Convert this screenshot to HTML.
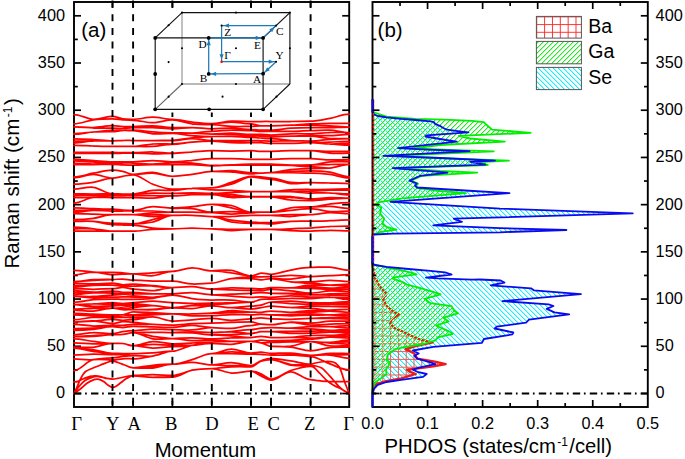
<!DOCTYPE html>
<html><head><meta charset="utf-8"><style>
html,body{margin:0;padding:0;background:#fff;}
svg{display:block;}
text{font-family:"Liberation Sans",sans-serif;fill:#000;}
.tl{font-size:16.3px;}
.hs{font-family:"Liberation Serif",serif;font-size:18.6px;}
.ti{font-size:20.3px;}
.pl{font-size:20.5px;}
.lg{font-size:19.5px;}
.ins{font-family:"Liberation Serif",serif;font-size:11.3px;}
</style></head><body>
<svg width="685" height="459" viewBox="0 0 685 459">
<rect width="685" height="459" fill="#fff"/>
<defs>
<pattern id="pBa" patternUnits="userSpaceOnUse" width="7.85" height="7.7" x="2.45" y="1">
<path d="M0 0.5H7.85M0.5 0V7.7" stroke="#ff2020" stroke-width="0.9" fill="none"/></pattern>
<pattern id="pGa" patternUnits="userSpaceOnUse" width="5" height="5" x="0" y="0">
<g fill="#18ee18" shape-rendering="crispEdges"><rect x="4" y="0" width="1" height="1"/><rect x="3" y="1" width="1" height="1"/><rect x="2" y="2" width="1" height="1"/><rect x="1" y="3" width="1" height="1"/><rect x="0" y="4" width="1" height="1"/></g><g fill="#b0f4b0" shape-rendering="crispEdges"><rect x="0" y="0" width="1" height="1"/><rect x="4" y="1" width="1" height="1"/><rect x="3" y="2" width="1" height="1"/><rect x="2" y="3" width="1" height="1"/><rect x="1" y="4" width="1" height="1"/></g></pattern>
<pattern id="pSe" patternUnits="userSpaceOnUse" width="5" height="5" x="0" y="0">
<g fill="#10f0ff" shape-rendering="crispEdges"><rect x="0" y="0" width="1" height="1"/><rect x="1" y="1" width="1" height="1"/><rect x="2" y="2" width="1" height="1"/><rect x="3" y="3" width="1" height="1"/><rect x="4" y="4" width="1" height="1"/></g><g fill="#a8f8ff" shape-rendering="crispEdges"><rect x="1" y="0" width="1" height="1"/><rect x="2" y="1" width="1" height="1"/><rect x="3" y="2" width="1" height="1"/><rect x="4" y="3" width="1" height="1"/><rect x="0" y="4" width="1" height="1"/></g></pattern>
<pattern id="pBa2" patternUnits="userSpaceOnUse" width="7.8" height="7.8" x="0.1" y="0.1">
<path d="M0 0.5H7.8M0.5 0V7.8" stroke="#ff5050" stroke-width="1.0" fill="none"/></pattern>
</defs>
<g id="dos"><polygon points="372.5,100.0 372.5,100.0 372.7,112.3 374.2,114.5 377.8,116.0 386.6,117.4 401.2,118.9 415.8,120.0 430.4,121.4 434.0,122.2 435.5,124.2 440.6,126.2 442.9,127.7 447.0,129.7 459.6,131.3 468.4,132.4 426.6,135.4 425.5,136.5 440.0,139.0 456.8,141.6 398.1,148.2 426.7,149.7 469.6,151.2 383.3,155.9 440.0,158.0 495.0,160.6 470.1,161.8 485.4,164.6 392.8,168.2 447.4,172.6 420.3,175.8 409.5,180.6 416.8,183.5 415.0,185.8 417.0,187.5 465.0,190.5 509.5,193.2 390.4,201.8 500.0,208.6 632.8,213.3 500.0,217.4 453.7,218.7 461.9,221.8 433.3,225.3 500.0,228.2 566.4,230.0 500.0,232.3 392.4,233.6 374.0,234.5 372.5,236.5 372.5,262.5 372.7,263.8 374.9,265.0 386.6,266.8 408.5,269.0 430.4,270.8 445.0,272.3 451.6,274.5 426.0,277.7 437.7,278.4 472.0,279.6 480.0,279.5 500.6,280.5 504.5,282.5 490.8,285.4 531.0,288.3 533.9,290.3 581.0,294.2 502.5,301.1 548.6,304.4 553.5,306.0 546.7,308.9 554.5,312.3 569.2,314.4 529.0,319.7 526.1,322.6 496.7,326.6 494.7,328.5 513.3,332.5 512.4,334.4 483.9,339.0 482.0,342.8 433.3,346.9 412.9,350.5 418.7,353.5 414.3,355.7 417.3,358.6 430.4,362.3 435.5,364.1 420.2,367.4 412.9,369.6 417.3,371.8 426.7,374.0 423.1,376.9 401.2,379.8 386.6,382.0 377.8,384.9 374.2,388.6 372.7,393.0 372.5,396.0 372.5,396.0" fill="url(#pSe)" stroke="none"/>
<polygon points="372.5,262.0 372.5,262.0 372.7,266.4 374.2,272.6 373.5,277.0 377.1,280.6 378.6,285.0 382.2,289.4 386.6,293.8 383.0,298.8 386.6,306.1 393.9,311.9 399.0,314.5 391.7,319.2 390.2,323.6 395.4,328.7 401.2,330.8 410.0,335.2 420.2,339.6 432.6,342.5 415.8,346.2 405.6,349.1 414.3,353.5 417.3,358.6 434.8,361.6 445.7,364.1 433.3,366.4 420.2,368.1 407.0,369.6 410.0,371.8 415.8,374.0 401.2,378.4 385.1,381.3 376.4,384.2 372.7,390.0 372.5,394.0 372.5,394.0" fill="url(#pBa2)" stroke="none"/>
<line x1="373.6" y1="99.5" x2="373.6" y2="262" stroke="#ff2020" stroke-width="1.2"/>
<polyline points="372.5,262.0 372.7,266.4 374.2,272.6 373.5,277.0 377.1,280.6 378.6,285.0 382.2,289.4 386.6,293.8 383.0,298.8 386.6,306.1 393.9,311.9 399.0,314.5 391.7,319.2 390.2,323.6 395.4,328.7 401.2,330.8 410.0,335.2 420.2,339.6 432.6,342.5 415.8,346.2 405.6,349.1 414.3,353.5 417.3,358.6 434.8,361.6 445.7,364.1 433.3,366.4 420.2,368.1 407.0,369.6 410.0,371.8 415.8,374.0 401.2,378.4 385.1,381.3 376.4,384.2 372.7,390.0 372.5,394.0" fill="none" stroke="#f01818" stroke-width="2.3" stroke-linejoin="round"/>
<polygon points="372.5,110.0 372.5,110.0 372.7,112.0 386.6,116.7 415.8,118.9 445.0,119.6 472.0,120.8 483.8,122.2 485.8,124.2 489.9,127.7 492.0,129.7 530.8,132.8 458.7,135.8 470.0,138.5 504.8,141.7 440.0,145.0 412.0,148.5 450.0,150.0 493.7,151.4 392.0,155.9 450.0,158.5 508.9,160.6 480.0,162.2 487.9,165.0 398.0,168.2 440.0,171.0 477.2,172.6 422.0,175.8 411.0,180.6 418.0,183.6 416.0,186.0 418.0,188.0 440.0,191.0 466.0,193.2 402.7,198.3 378.1,202.4 375.0,204.4 381.2,207.5 380.2,213.6 384.3,218.7 382.2,223.8 386.3,226.9 396.5,229.6 380.2,232.0 372.5,234.5 372.5,263.0 372.7,264.1 386.6,267.5 401.2,270.4 411.4,272.6 416.5,274.4 393.9,277.3 392.4,278.4 402.7,282.1 407.0,284.6 421.6,288.4 424.6,289.4 434.8,292.3 440.6,294.3 424.6,298.8 430.4,303.1 451.6,306.1 453.8,310.4 458.1,313.4 443.5,317.7 448.6,321.4 436.2,325.7 447.9,330.8 453.0,333.8 437.7,337.4 435.5,340.3 423.1,344.0 405.6,346.9 395.4,349.1 388.1,354.2 386.6,360.0 389.5,362.0 388.8,365.2 385.9,369.6 386.6,374.0 380.8,378.4 374.9,382.7 372.7,388.6 372.5,394.0 372.5,394.0" fill="url(#pGa)" stroke="none"/>
<polyline points="372.5,110.0 372.7,112.0 386.6,116.7 415.8,118.9 445.0,119.6 472.0,120.8 483.8,122.2 485.8,124.2 489.9,127.7 492.0,129.7 530.8,132.8 458.7,135.8 470.0,138.5 504.8,141.7 440.0,145.0 412.0,148.5 450.0,150.0 493.7,151.4 392.0,155.9 450.0,158.5 508.9,160.6 480.0,162.2 487.9,165.0 398.0,168.2 440.0,171.0 477.2,172.6 422.0,175.8 411.0,180.6 418.0,183.6 416.0,186.0 418.0,188.0 440.0,191.0 466.0,193.2 402.7,198.3 378.1,202.4 375.0,204.4 381.2,207.5 380.2,213.6 384.3,218.7 382.2,223.8 386.3,226.9 396.5,229.6 380.2,232.0 372.5,234.5 372.5,263.0 372.7,264.1 386.6,267.5 401.2,270.4 411.4,272.6 416.5,274.4 393.9,277.3 392.4,278.4 402.7,282.1 407.0,284.6 421.6,288.4 424.6,289.4 434.8,292.3 440.6,294.3 424.6,298.8 430.4,303.1 451.6,306.1 453.8,310.4 458.1,313.4 443.5,317.7 448.6,321.4 436.2,325.7 447.9,330.8 453.0,333.8 437.7,337.4 435.5,340.3 423.1,344.0 405.6,346.9 395.4,349.1 388.1,354.2 386.6,360.0 389.5,362.0 388.8,365.2 385.9,369.6 386.6,374.0 380.8,378.4 374.9,382.7 372.7,388.6 372.5,394.0" fill="none" stroke="#00ee00" stroke-width="1.8" stroke-linejoin="round"/>
<polyline points="372.5,99.3 372.5,100.0 372.7,112.3 374.2,114.5 377.8,116.0 386.6,117.4 401.2,118.9 415.8,120.0 430.4,121.4 434.0,122.2 435.5,124.2 440.6,126.2 442.9,127.7 447.0,129.7 459.6,131.3 468.4,132.4 426.6,135.4 425.5,136.5 440.0,139.0 456.8,141.6 398.1,148.2 426.7,149.7 469.6,151.2 383.3,155.9 440.0,158.0 495.0,160.6 470.1,161.8 485.4,164.6 392.8,168.2 447.4,172.6 420.3,175.8 409.5,180.6 416.8,183.5 415.0,185.8 417.0,187.5 465.0,190.5 509.5,193.2 390.4,201.8 500.0,208.6 632.8,213.3 500.0,217.4 453.7,218.7 461.9,221.8 433.3,225.3 500.0,228.2 566.4,230.0 500.0,232.3 392.4,233.6 374.0,234.5 372.5,236.5 372.5,262.5 372.7,263.8 374.9,265.0 386.6,266.8 408.5,269.0 430.4,270.8 445.0,272.3 451.6,274.5 426.0,277.7 437.7,278.4 472.0,279.6 480.0,279.5 500.6,280.5 504.5,282.5 490.8,285.4 531.0,288.3 533.9,290.3 581.0,294.2 502.5,301.1 548.6,304.4 553.5,306.0 546.7,308.9 554.5,312.3 569.2,314.4 529.0,319.7 526.1,322.6 496.7,326.6 494.7,328.5 513.3,332.5 512.4,334.4 483.9,339.0 482.0,342.8 433.3,346.9 412.9,350.5 418.7,353.5 414.3,355.7 417.3,358.6 430.4,362.3 435.5,364.1 420.2,367.4 412.9,369.6 417.3,371.8 426.7,374.0 423.1,376.9 401.2,379.8 386.6,382.0 377.8,384.9 374.2,388.6 372.7,393.0 372.5,396.0 372.5,407.0" fill="none" stroke="#0a0aee" stroke-width="1.8" stroke-linejoin="round"/></g>
<rect x="74.0" y="2.0" width="275.2" height="405.0" fill="none" stroke="#000" stroke-width="1.9"/>
<rect x="372.5" y="2.0" width="275.29999999999995" height="405.0" fill="none" stroke="#000" stroke-width="1.9"/>
<line x1="373.3" y1="113" x2="373.3" y2="262" stroke="#ff2020" stroke-width="1.3" stroke-dasharray="2.6 1.6"/>
<line x1="372.5" y1="99.3" x2="372.5" y2="112.5" stroke="#0a0aee" stroke-width="1.8"/>
<line x1="372.5" y1="236.3" x2="372.5" y2="263.2" stroke="#0a0aee" stroke-width="1.8"/>
<line x1="372.5" y1="392.5" x2="372.5" y2="407" stroke="#0a0aee" stroke-width="1.8"/>
<line x1="74.0" y1="393.50" x2="81.0" y2="393.50" stroke="#000" stroke-width="1.7"/>
<line x1="349.2" y1="393.50" x2="342.2" y2="393.50" stroke="#000" stroke-width="1.7"/>
<line x1="372.5" y1="393.50" x2="379.5" y2="393.50" stroke="#000" stroke-width="1.7"/>
<line x1="647.8" y1="393.50" x2="640.8" y2="393.50" stroke="#000" stroke-width="1.7"/>
<line x1="74.0" y1="369.89" x2="77.8" y2="369.89" stroke="#000" stroke-width="1.7"/>
<line x1="349.2" y1="369.89" x2="345.4" y2="369.89" stroke="#000" stroke-width="1.7"/>
<line x1="372.5" y1="369.89" x2="376.3" y2="369.89" stroke="#000" stroke-width="1.7"/>
<line x1="647.8" y1="369.89" x2="644.0" y2="369.89" stroke="#000" stroke-width="1.7"/>
<line x1="74.0" y1="346.29" x2="81.0" y2="346.29" stroke="#000" stroke-width="1.7"/>
<line x1="349.2" y1="346.29" x2="342.2" y2="346.29" stroke="#000" stroke-width="1.7"/>
<line x1="372.5" y1="346.29" x2="379.5" y2="346.29" stroke="#000" stroke-width="1.7"/>
<line x1="647.8" y1="346.29" x2="640.8" y2="346.29" stroke="#000" stroke-width="1.7"/>
<line x1="74.0" y1="322.68" x2="77.8" y2="322.68" stroke="#000" stroke-width="1.7"/>
<line x1="349.2" y1="322.68" x2="345.4" y2="322.68" stroke="#000" stroke-width="1.7"/>
<line x1="372.5" y1="322.68" x2="376.3" y2="322.68" stroke="#000" stroke-width="1.7"/>
<line x1="647.8" y1="322.68" x2="644.0" y2="322.68" stroke="#000" stroke-width="1.7"/>
<line x1="74.0" y1="299.07" x2="81.0" y2="299.07" stroke="#000" stroke-width="1.7"/>
<line x1="349.2" y1="299.07" x2="342.2" y2="299.07" stroke="#000" stroke-width="1.7"/>
<line x1="372.5" y1="299.07" x2="379.5" y2="299.07" stroke="#000" stroke-width="1.7"/>
<line x1="647.8" y1="299.07" x2="640.8" y2="299.07" stroke="#000" stroke-width="1.7"/>
<line x1="74.0" y1="275.47" x2="77.8" y2="275.47" stroke="#000" stroke-width="1.7"/>
<line x1="349.2" y1="275.47" x2="345.4" y2="275.47" stroke="#000" stroke-width="1.7"/>
<line x1="372.5" y1="275.47" x2="376.3" y2="275.47" stroke="#000" stroke-width="1.7"/>
<line x1="647.8" y1="275.47" x2="644.0" y2="275.47" stroke="#000" stroke-width="1.7"/>
<line x1="74.0" y1="251.86" x2="81.0" y2="251.86" stroke="#000" stroke-width="1.7"/>
<line x1="349.2" y1="251.86" x2="342.2" y2="251.86" stroke="#000" stroke-width="1.7"/>
<line x1="372.5" y1="251.86" x2="379.5" y2="251.86" stroke="#000" stroke-width="1.7"/>
<line x1="647.8" y1="251.86" x2="640.8" y2="251.86" stroke="#000" stroke-width="1.7"/>
<line x1="74.0" y1="228.26" x2="77.8" y2="228.26" stroke="#000" stroke-width="1.7"/>
<line x1="349.2" y1="228.26" x2="345.4" y2="228.26" stroke="#000" stroke-width="1.7"/>
<line x1="372.5" y1="228.26" x2="376.3" y2="228.26" stroke="#000" stroke-width="1.7"/>
<line x1="647.8" y1="228.26" x2="644.0" y2="228.26" stroke="#000" stroke-width="1.7"/>
<line x1="74.0" y1="204.65" x2="81.0" y2="204.65" stroke="#000" stroke-width="1.7"/>
<line x1="349.2" y1="204.65" x2="342.2" y2="204.65" stroke="#000" stroke-width="1.7"/>
<line x1="372.5" y1="204.65" x2="379.5" y2="204.65" stroke="#000" stroke-width="1.7"/>
<line x1="647.8" y1="204.65" x2="640.8" y2="204.65" stroke="#000" stroke-width="1.7"/>
<line x1="74.0" y1="181.04" x2="77.8" y2="181.04" stroke="#000" stroke-width="1.7"/>
<line x1="349.2" y1="181.04" x2="345.4" y2="181.04" stroke="#000" stroke-width="1.7"/>
<line x1="372.5" y1="181.04" x2="376.3" y2="181.04" stroke="#000" stroke-width="1.7"/>
<line x1="647.8" y1="181.04" x2="644.0" y2="181.04" stroke="#000" stroke-width="1.7"/>
<line x1="74.0" y1="157.44" x2="81.0" y2="157.44" stroke="#000" stroke-width="1.7"/>
<line x1="349.2" y1="157.44" x2="342.2" y2="157.44" stroke="#000" stroke-width="1.7"/>
<line x1="372.5" y1="157.44" x2="379.5" y2="157.44" stroke="#000" stroke-width="1.7"/>
<line x1="647.8" y1="157.44" x2="640.8" y2="157.44" stroke="#000" stroke-width="1.7"/>
<line x1="74.0" y1="133.83" x2="77.8" y2="133.83" stroke="#000" stroke-width="1.7"/>
<line x1="349.2" y1="133.83" x2="345.4" y2="133.83" stroke="#000" stroke-width="1.7"/>
<line x1="372.5" y1="133.83" x2="376.3" y2="133.83" stroke="#000" stroke-width="1.7"/>
<line x1="647.8" y1="133.83" x2="644.0" y2="133.83" stroke="#000" stroke-width="1.7"/>
<line x1="74.0" y1="110.22" x2="81.0" y2="110.22" stroke="#000" stroke-width="1.7"/>
<line x1="349.2" y1="110.22" x2="342.2" y2="110.22" stroke="#000" stroke-width="1.7"/>
<line x1="372.5" y1="110.22" x2="379.5" y2="110.22" stroke="#000" stroke-width="1.7"/>
<line x1="647.8" y1="110.22" x2="640.8" y2="110.22" stroke="#000" stroke-width="1.7"/>
<line x1="74.0" y1="86.62" x2="77.8" y2="86.62" stroke="#000" stroke-width="1.7"/>
<line x1="349.2" y1="86.62" x2="345.4" y2="86.62" stroke="#000" stroke-width="1.7"/>
<line x1="372.5" y1="86.62" x2="376.3" y2="86.62" stroke="#000" stroke-width="1.7"/>
<line x1="647.8" y1="86.62" x2="644.0" y2="86.62" stroke="#000" stroke-width="1.7"/>
<line x1="74.0" y1="63.01" x2="81.0" y2="63.01" stroke="#000" stroke-width="1.7"/>
<line x1="349.2" y1="63.01" x2="342.2" y2="63.01" stroke="#000" stroke-width="1.7"/>
<line x1="372.5" y1="63.01" x2="379.5" y2="63.01" stroke="#000" stroke-width="1.7"/>
<line x1="647.8" y1="63.01" x2="640.8" y2="63.01" stroke="#000" stroke-width="1.7"/>
<line x1="74.0" y1="39.41" x2="77.8" y2="39.41" stroke="#000" stroke-width="1.7"/>
<line x1="349.2" y1="39.41" x2="345.4" y2="39.41" stroke="#000" stroke-width="1.7"/>
<line x1="372.5" y1="39.41" x2="376.3" y2="39.41" stroke="#000" stroke-width="1.7"/>
<line x1="647.8" y1="39.41" x2="644.0" y2="39.41" stroke="#000" stroke-width="1.7"/>
<line x1="74.0" y1="15.80" x2="81.0" y2="15.80" stroke="#000" stroke-width="1.7"/>
<line x1="349.2" y1="15.80" x2="342.2" y2="15.80" stroke="#000" stroke-width="1.7"/>
<line x1="372.5" y1="15.80" x2="379.5" y2="15.80" stroke="#000" stroke-width="1.7"/>
<line x1="647.8" y1="15.80" x2="640.8" y2="15.80" stroke="#000" stroke-width="1.7"/>
<line x1="112.5" y1="2.0" x2="112.5" y2="8.0" stroke="#000" stroke-width="1.7"/>
<line x1="112.5" y1="407.0" x2="112.5" y2="401.0" stroke="#000" stroke-width="1.7"/>
<line x1="133.1" y1="2.0" x2="133.1" y2="8.0" stroke="#000" stroke-width="1.7"/>
<line x1="133.1" y1="407.0" x2="133.1" y2="401.0" stroke="#000" stroke-width="1.7"/>
<line x1="172.4" y1="2.0" x2="172.4" y2="8.0" stroke="#000" stroke-width="1.7"/>
<line x1="172.4" y1="407.0" x2="172.4" y2="401.0" stroke="#000" stroke-width="1.7"/>
<line x1="211.8" y1="2.0" x2="211.8" y2="8.0" stroke="#000" stroke-width="1.7"/>
<line x1="211.8" y1="407.0" x2="211.8" y2="401.0" stroke="#000" stroke-width="1.7"/>
<line x1="251.0" y1="2.0" x2="251.0" y2="8.0" stroke="#000" stroke-width="1.7"/>
<line x1="251.0" y1="407.0" x2="251.0" y2="401.0" stroke="#000" stroke-width="1.7"/>
<line x1="271.0" y1="2.0" x2="271.0" y2="8.0" stroke="#000" stroke-width="1.7"/>
<line x1="271.0" y1="407.0" x2="271.0" y2="401.0" stroke="#000" stroke-width="1.7"/>
<line x1="310.6" y1="2.0" x2="310.6" y2="8.0" stroke="#000" stroke-width="1.7"/>
<line x1="310.6" y1="407.0" x2="310.6" y2="401.0" stroke="#000" stroke-width="1.7"/>
<line x1="400.03" y1="2.0" x2="400.03" y2="6.0" stroke="#000" stroke-width="1.7"/>
<line x1="400.03" y1="407.0" x2="400.03" y2="403.0" stroke="#000" stroke-width="1.7"/>
<line x1="427.56" y1="2.0" x2="427.56" y2="9.0" stroke="#000" stroke-width="1.7"/>
<line x1="427.56" y1="407.0" x2="427.56" y2="400.0" stroke="#000" stroke-width="1.7"/>
<line x1="455.09" y1="2.0" x2="455.09" y2="6.0" stroke="#000" stroke-width="1.7"/>
<line x1="455.09" y1="407.0" x2="455.09" y2="403.0" stroke="#000" stroke-width="1.7"/>
<line x1="482.62" y1="2.0" x2="482.62" y2="9.0" stroke="#000" stroke-width="1.7"/>
<line x1="482.62" y1="407.0" x2="482.62" y2="400.0" stroke="#000" stroke-width="1.7"/>
<line x1="510.15" y1="2.0" x2="510.15" y2="6.0" stroke="#000" stroke-width="1.7"/>
<line x1="510.15" y1="407.0" x2="510.15" y2="403.0" stroke="#000" stroke-width="1.7"/>
<line x1="537.68" y1="2.0" x2="537.68" y2="9.0" stroke="#000" stroke-width="1.7"/>
<line x1="537.68" y1="407.0" x2="537.68" y2="400.0" stroke="#000" stroke-width="1.7"/>
<line x1="565.21" y1="2.0" x2="565.21" y2="6.0" stroke="#000" stroke-width="1.7"/>
<line x1="565.21" y1="407.0" x2="565.21" y2="403.0" stroke="#000" stroke-width="1.7"/>
<line x1="592.74" y1="2.0" x2="592.74" y2="9.0" stroke="#000" stroke-width="1.7"/>
<line x1="592.74" y1="407.0" x2="592.74" y2="400.0" stroke="#000" stroke-width="1.7"/>
<line x1="620.27" y1="2.0" x2="620.27" y2="6.0" stroke="#000" stroke-width="1.7"/>
<line x1="620.27" y1="407.0" x2="620.27" y2="403.0" stroke="#000" stroke-width="1.7"/>
<g id="curves"><path d="M74.0 114.50C80.4 114.50 86.9 118.99 93.3 119.30M74.0 123.80C80.4 123.80 86.9 120.72 93.3 119.90M74.0 126.90C80.4 126.90 86.9 127.70 93.3 127.50M74.0 126.90C80.4 126.90 86.9 127.82 93.3 128.00M74.0 133.50C80.4 133.50 86.9 132.48 93.3 132.00M74.0 134.20C80.4 134.20 86.9 132.48 93.3 132.00M74.0 138.80C80.4 138.80 86.9 139.17 93.3 139.50M74.0 141.00C80.4 141.00 86.9 141.24 93.3 141.00M74.0 143.00C80.4 143.00 86.9 141.24 93.3 141.00M74.0 145.40C80.4 145.40 86.9 145.83 93.3 146.00M74.0 152.40C80.4 152.40 86.9 152.40 93.3 152.40M74.0 153.40C80.4 153.40 86.9 153.40 93.3 153.40M74.0 159.30C80.4 159.30 86.9 160.08 93.3 160.50M74.0 160.80C80.4 160.80 86.9 161.83 93.3 162.00M74.0 163.30C80.4 163.30 86.9 164.00 93.3 164.00M74.0 164.60C80.4 164.60 86.9 164.65 93.3 164.60M74.0 176.90C80.4 176.90 86.9 174.34 93.3 173.20M74.0 177.70C80.4 177.70 86.9 174.33 93.3 174.40M74.0 184.20C80.4 184.20 86.9 183.42 93.3 182.40M74.0 189.10C80.4 189.10 86.9 186.51 93.3 187.30M74.0 193.80C80.4 193.80 86.9 194.00 93.3 194.00M74.0 195.50C80.4 195.50 86.9 195.47 93.3 195.50M74.0 197.50C80.4 197.50 86.9 198.11 93.3 197.50M74.0 203.00C80.4 203.00 86.9 198.11 93.3 197.50M74.0 207.90C80.4 207.90 86.9 208.38 93.3 208.60M74.0 210.40C80.4 210.40 86.9 210.53 93.3 210.40M74.0 212.20C80.4 212.20 86.9 210.53 93.3 210.40M74.0 213.50C80.4 213.50 86.9 213.90 93.3 214.10M74.0 219.60C80.4 219.60 86.9 219.22 93.3 218.40M74.0 221.40C80.4 221.40 86.9 220.84 93.3 221.40M74.0 227.00C80.4 227.00 86.9 228.33 93.3 228.80M74.0 228.80C80.4 228.80 86.9 228.33 93.3 228.80M74.0 231.20C80.4 231.20 86.9 231.20 93.3 231.20M93.3 119.30C99.7 119.61 106.1 116.40 112.5 116.40M93.3 119.90C99.7 119.09 106.1 118.90 112.5 118.90M93.3 127.50C99.7 127.30 106.1 125.70 112.5 125.70M93.3 128.00C99.7 128.18 106.1 128.00 112.5 128.00M93.3 132.00C99.7 131.52 106.1 130.30 112.5 130.30M93.3 132.00C99.7 131.52 106.1 131.60 112.5 131.60M93.3 139.50C99.7 139.83 106.1 140.80 112.5 140.80M93.3 141.00C99.7 140.76 106.1 140.80 112.5 140.80M93.3 146.00C99.7 146.17 106.1 146.40 112.5 146.40M93.3 152.40C99.7 152.40 106.1 152.40 112.5 152.40M93.3 153.40C99.7 153.40 106.1 153.40 112.5 153.40M93.3 160.50C99.7 160.92 106.1 161.80 112.5 161.80M93.3 162.00C99.7 162.17 106.1 161.80 112.5 161.80M93.3 164.00C99.7 164.00 106.1 163.30 112.5 163.30M93.3 164.60C99.7 164.55 106.1 164.30 112.5 164.30M93.3 173.20C99.7 172.07 106.1 170.10 112.5 170.10M93.3 174.40C99.7 174.47 106.1 178.10 112.5 178.10M93.3 182.40C99.7 181.38 106.1 178.10 112.5 178.10M93.3 187.30C99.7 188.08 106.1 193.80 112.5 193.80M93.3 194.00C99.7 194.00 106.1 193.80 112.5 193.80M93.3 195.50C99.7 195.53 106.1 195.70 112.5 195.70M93.3 197.50C99.7 196.89 106.1 197.50 112.5 197.50M93.3 208.60C99.7 208.82 106.1 209.20 112.5 209.20M93.3 210.40C99.7 210.27 106.1 211.00 112.5 211.00M93.3 214.10C99.7 214.30 106.1 214.70 112.5 214.70M93.3 218.40C99.7 217.58 106.1 214.70 112.5 214.70M93.3 221.40C99.7 221.96 106.1 223.30 112.5 223.30M93.3 221.40C99.7 221.96 106.1 224.50 112.5 224.50M93.3 228.80C99.7 229.27 106.1 231.20 112.5 231.20M93.3 231.20C99.7 231.20 106.1 231.20 112.5 231.20M112.5 116.40C115.9 116.40 119.4 118.42 122.8 118.90M112.5 118.90C115.9 118.90 119.4 119.57 122.8 119.80M112.5 125.70C115.9 125.70 119.4 126.35 122.8 126.50M112.5 128.00C115.9 128.00 119.4 128.57 122.8 128.50M112.5 130.30C115.9 130.30 119.4 130.60 122.8 130.50M112.5 131.60C115.9 131.60 119.4 130.60 122.8 130.50M112.5 140.80C115.9 140.80 119.4 140.55 122.8 140.50M112.5 146.40C115.9 146.40 119.4 146.40 122.8 146.40M112.5 152.40C115.9 152.40 119.4 152.57 122.8 152.60M112.5 153.40C115.9 153.40 119.4 153.27 122.8 153.20M112.5 161.80C115.9 161.80 119.4 161.80 122.8 161.80M112.5 163.30C115.9 163.30 119.4 163.05 122.8 163.00M112.5 164.30C115.9 164.30 119.4 164.68 122.8 164.80M112.5 170.10C115.9 170.10 119.4 170.68 122.8 171.40M112.5 178.10C115.9 178.10 119.4 176.85 122.8 176.30M112.5 193.80C115.9 193.80 119.4 193.97 122.8 194.00M112.5 195.70C115.9 195.70 119.4 195.53 122.8 195.50M112.5 197.50C115.9 197.50 119.4 197.50 122.8 197.50M112.5 209.20C115.9 209.20 119.4 209.80 122.8 210.00M112.5 211.00C115.9 211.00 119.4 211.03 122.8 211.00M112.5 214.70C115.9 214.70 119.4 214.70 122.8 214.70M112.5 223.30C115.9 223.30 119.4 223.50 122.8 223.60M112.5 224.50C115.9 224.50 119.4 224.92 122.8 225.00M112.5 231.20C115.9 231.20 119.4 231.20 122.8 231.20M122.8 118.90C126.2 119.38 129.7 119.30 133.1 119.30M122.8 119.80C126.2 120.03 129.7 120.30 133.1 120.30M122.8 126.50C126.2 126.65 129.7 126.60 133.1 126.60M122.8 128.50C126.2 128.43 129.7 127.60 133.1 127.60M122.8 130.50C126.2 130.40 129.7 130.10 133.1 130.10M122.8 130.50C126.2 130.40 129.7 130.60 133.1 130.60M122.8 140.50C126.2 140.45 129.7 140.50 133.1 140.50M122.8 146.40C126.2 146.40 129.7 146.40 133.1 146.40M122.8 152.60C126.2 152.63 129.7 152.60 133.1 152.60M122.8 153.20C126.2 153.13 129.7 153.00 133.1 153.00M122.8 161.80C126.2 161.80 129.7 161.80 133.1 161.80M122.8 163.00C126.2 162.95 129.7 163.00 133.1 163.00M122.8 164.80C126.2 164.92 129.7 165.00 133.1 165.00M122.8 171.40C126.2 172.12 129.7 174.40 133.1 174.40M122.8 176.30C126.2 175.75 129.7 174.80 133.1 174.80M122.8 194.00C126.2 194.03 129.7 194.00 133.1 194.00M122.8 195.50C126.2 195.47 129.7 195.50 133.1 195.50M122.8 197.50C126.2 197.50 129.7 197.50 133.1 197.50M122.8 210.00C126.2 210.20 129.7 210.40 133.1 210.40M122.8 211.00C126.2 210.97 129.7 210.80 133.1 210.80M122.8 214.70C126.2 214.70 129.7 214.70 133.1 214.70M122.8 223.60C126.2 223.70 129.7 223.90 133.1 223.90M122.8 225.00C126.2 225.08 129.7 225.00 133.1 225.00M122.8 231.20C126.2 231.20 129.7 231.20 133.1 231.20M133.1 119.30C139.7 119.30 146.2 117.20 152.8 117.20M133.1 120.30C139.7 120.30 146.2 122.77 152.8 122.70M133.1 126.60C139.7 126.60 146.2 125.63 152.8 125.80M133.1 127.60C139.7 127.60 146.2 127.40 152.8 127.60M133.1 130.10C139.7 130.10 146.2 131.45 152.8 131.90M133.1 130.60C139.7 130.60 146.2 133.33 152.8 133.80M133.1 140.50C139.7 140.50 146.2 140.50 152.8 140.50M133.1 146.40C139.7 146.40 146.2 144.40 152.8 144.00M133.1 146.40C139.7 146.40 146.2 146.75 152.8 146.40M133.1 152.60C139.7 152.60 146.2 151.93 152.8 152.00M133.1 153.00C139.7 153.00 146.2 153.73 152.8 153.80M133.1 161.80C139.7 161.80 146.2 160.50 152.8 160.50M133.1 163.00C139.7 163.00 146.2 164.25 152.8 164.20M133.1 165.00C139.7 165.00 146.2 164.67 152.8 164.60M133.1 174.40C139.7 174.40 146.2 172.08 152.8 172.40M133.1 174.40C139.7 174.40 146.2 172.88 152.8 173.20M133.1 174.80C139.7 174.80 146.2 181.81 152.8 184.20M133.1 194.00C139.7 194.00 146.2 191.00 152.8 190.40M133.1 194.00C139.7 194.00 146.2 193.30 152.8 193.20M133.1 195.50C139.7 195.50 146.2 195.63 152.8 195.70M133.1 197.50C139.7 197.50 146.2 198.37 152.8 198.10M133.1 210.40C139.7 210.40 146.2 206.79 152.8 206.70M133.1 210.80C139.7 210.80 146.2 210.77 152.8 211.00M133.1 214.70C139.7 214.70 146.2 213.22 152.8 212.80M133.1 214.70C139.7 214.70 146.2 214.60 152.8 214.70M133.1 214.70C139.7 214.70 146.2 216.40 152.8 216.50M133.1 223.90C139.7 223.90 146.2 221.04 152.8 219.60M133.1 223.90C139.7 223.90 146.2 223.44 152.8 222.00M133.1 225.00C139.7 225.00 146.2 227.57 152.8 228.20M133.1 231.20C139.7 231.20 146.2 229.80 152.8 229.40M152.8 117.20C159.3 117.20 165.9 119.30 172.4 119.30M152.8 122.70C159.3 122.63 165.9 119.90 172.4 119.90M152.8 125.80C159.3 125.97 165.9 127.60 172.4 127.60M152.8 127.60C159.3 127.80 165.9 128.80 172.4 128.80M152.8 131.90C159.3 132.35 165.9 132.80 172.4 132.80M152.8 133.80C159.3 134.26 165.9 133.40 172.4 133.40M152.8 140.50C159.3 140.50 165.9 140.30 172.4 140.30M152.8 140.50C159.3 140.50 165.9 140.70 172.4 140.70M152.8 144.00C159.3 143.60 165.9 144.00 172.4 144.00M152.8 146.40C159.3 146.05 165.9 144.30 172.4 144.30M152.8 152.00C159.3 152.07 165.9 153.00 172.4 153.00M152.8 153.80C159.3 153.87 165.9 153.40 172.4 153.40M152.8 160.50C159.3 160.50 165.9 161.80 172.4 161.80M152.8 164.20C159.3 164.15 165.9 162.70 172.4 162.70M152.8 164.60C159.3 164.53 165.9 164.60 172.4 164.60M152.8 172.40C159.3 172.72 165.9 176.30 172.4 176.30M152.8 173.20C159.3 173.52 165.9 176.30 172.4 176.30M152.8 184.20C159.3 186.58 165.9 189.10 172.4 189.10M152.8 190.40C159.3 189.80 165.9 190.40 172.4 190.40M152.8 193.20C159.3 193.10 165.9 193.40 172.4 193.40M152.8 195.70C159.3 195.77 165.9 195.90 172.4 195.90M152.8 198.10C159.3 197.83 165.9 195.90 172.4 195.90M152.8 206.70C159.3 206.61 165.9 208.00 172.4 208.00M152.8 206.70C159.3 206.61 165.9 208.30 172.4 208.30M152.8 211.00C159.3 211.23 165.9 212.20 172.4 212.20M152.8 212.80C159.3 212.38 165.9 212.20 172.4 212.20M152.8 214.70C159.3 214.80 165.9 215.30 172.4 215.30M152.8 216.50C159.3 216.60 165.9 215.30 172.4 215.30M152.8 219.60C159.3 218.17 165.9 215.30 172.4 215.30M152.8 222.00C159.3 220.57 165.9 215.30 172.4 215.30M152.8 228.20C159.3 228.83 165.9 228.80 172.4 228.80M152.8 229.40C159.3 229.00 165.9 228.80 172.4 228.80M172.4 119.30C179.0 119.30 185.5 121.38 192.1 122.10M172.4 119.90C179.0 119.90 185.5 123.22 192.1 124.00M172.4 127.60C179.0 127.60 185.5 127.60 192.1 127.60M172.4 128.80C179.0 128.80 185.5 127.60 192.1 127.60M172.4 132.80C179.0 132.80 185.5 133.17 192.1 133.10M172.4 133.40C179.0 133.40 185.5 135.08 192.1 135.60M172.4 140.30C179.0 140.30 185.5 138.43 192.1 137.80M172.4 140.70C179.0 140.70 185.5 138.73 192.1 138.70M172.4 144.00C179.0 144.00 185.5 142.66 192.1 142.10M172.4 144.30C179.0 144.30 185.5 142.66 192.1 142.10M172.4 153.00C179.0 153.00 185.5 152.41 192.1 152.00M172.4 153.40C179.0 153.40 185.5 152.41 192.1 152.00M172.4 161.80C179.0 161.80 185.5 161.02 192.1 160.50M172.4 162.70C179.0 162.70 185.5 162.55 192.1 163.00M172.4 164.60C179.0 164.60 185.5 164.40 192.1 164.60M172.4 176.30C179.0 176.30 185.5 175.22 192.1 174.40M172.4 189.10C179.0 189.10 185.5 188.65 192.1 188.50M172.4 190.40C179.0 190.40 185.5 188.65 192.1 188.50M172.4 193.40C179.0 193.40 185.5 192.80 192.1 192.80M172.4 195.90C179.0 195.90 185.5 194.90 192.1 194.70M172.4 208.00C179.0 208.00 185.5 207.32 192.1 206.70M172.4 208.30C179.0 208.30 185.5 207.95 192.1 208.60M172.4 212.20C179.0 212.20 185.5 212.15 192.1 212.20M172.4 215.30C179.0 215.30 185.5 215.10 192.1 215.30M172.4 228.80C179.0 228.80 185.5 228.20 192.1 228.20M192.1 122.10C198.7 122.82 205.2 123.60 211.8 123.60M192.1 124.00C198.7 124.78 205.2 124.60 211.8 124.60M192.1 127.60C198.7 127.60 205.2 128.80 211.8 128.80M192.1 133.10C198.7 133.03 205.2 131.30 211.8 131.30M192.1 133.10C198.7 133.03 205.2 134.00 211.8 134.00M192.1 135.60C198.7 136.12 205.2 136.50 211.8 136.50M192.1 137.80C198.7 137.17 205.2 136.50 211.8 136.50M192.1 138.70C198.7 138.67 205.2 140.50 211.8 140.50M192.1 142.10C198.7 141.54 205.2 141.20 211.8 141.20M192.1 152.00C198.7 151.59 205.2 150.70 211.8 150.70M192.1 160.50C198.7 159.98 205.2 158.70 211.8 158.70M192.1 163.00C198.7 163.45 205.2 165.40 211.8 165.40M192.1 164.60C198.7 164.80 205.2 165.80 211.8 165.80M192.1 174.40C198.7 173.58 205.2 171.40 211.8 171.40M192.1 188.50C198.7 188.35 205.2 187.90 211.8 187.90M192.1 188.50C198.7 188.35 205.2 189.80 211.8 189.80M192.1 192.80C198.7 192.80 205.2 193.40 211.8 193.40M192.1 194.70C198.7 194.50 205.2 194.70 211.8 194.70M192.1 206.70C198.7 206.08 205.2 204.30 211.8 204.30M192.1 208.60C198.7 209.25 205.2 212.20 211.8 212.20M192.1 212.20C198.7 212.25 205.2 212.50 211.8 212.50M192.1 215.30C198.7 215.50 205.2 216.50 211.8 216.50M192.1 228.20C198.7 228.20 205.2 228.80 211.8 228.80M211.8 123.60C218.3 123.60 224.9 121.52 231.4 121.20M211.8 123.60C218.3 123.60 224.9 122.05 231.4 122.10M211.8 124.60C218.3 124.60 224.9 126.10 231.4 126.40M211.8 128.80C218.3 128.80 224.9 128.08 231.4 128.20M211.8 131.30C218.3 131.30 224.9 130.20 231.4 130.10M211.8 134.00C218.3 134.00 224.9 133.03 231.4 133.10M211.8 134.00C218.3 134.00 224.9 134.33 231.4 134.40M211.8 136.50C218.3 136.50 224.9 136.39 231.4 136.40M211.8 140.50C218.3 140.50 224.9 140.50 231.4 140.50M211.8 141.20C218.3 141.20 224.9 141.65 231.4 141.90M211.8 141.20C218.3 141.20 224.9 142.45 231.4 142.70M211.8 150.70C218.3 150.70 224.9 151.00 231.4 151.00M211.8 158.70C218.3 158.70 224.9 158.60 231.4 158.70M211.8 165.40C218.3 165.40 224.9 165.00 231.4 164.80M211.8 165.80C218.3 165.80 224.9 165.30 231.4 165.20M211.8 171.40C218.3 171.40 224.9 170.50 231.4 170.70M211.8 171.40C218.3 171.40 224.9 171.60 231.4 172.00M211.8 187.90C218.3 187.90 224.9 184.33 231.4 182.40M211.8 187.90C218.3 187.90 224.9 186.03 231.4 184.20M211.8 189.80C218.3 189.80 224.9 190.10 231.4 190.40M211.8 193.40C218.3 193.40 224.9 192.90 231.4 192.60M211.8 194.70C218.3 194.70 224.9 194.40 231.4 194.70M211.8 194.70C218.3 194.70 224.9 196.20 231.4 196.50M211.8 194.70C218.3 194.70 224.9 197.13 231.4 197.50M211.8 204.30C218.3 204.30 224.9 204.18 231.4 205.50M211.8 204.30C218.3 204.30 224.9 206.58 231.4 207.90M211.8 212.20C218.3 212.20 224.9 211.60 231.4 211.60M211.8 212.50C218.3 212.50 224.9 214.05 231.4 214.10M211.8 216.50C218.3 216.50 224.9 216.70 231.4 216.50M211.8 216.50C218.3 216.50 224.9 219.28 231.4 220.20M211.8 216.50C218.3 216.50 224.9 220.87 231.4 222.00M211.8 228.80C218.3 228.80 224.9 229.30 231.4 229.40M211.8 228.80C218.3 228.80 224.9 230.50 231.4 230.60M231.4 121.20C237.9 120.88 244.5 121.70 251.0 121.70M231.4 122.10C237.9 122.15 244.5 123.90 251.0 123.90M231.4 126.40C237.9 126.70 244.5 126.40 251.0 126.40M231.4 128.20C237.9 128.32 244.5 129.50 251.0 129.50M231.4 130.10C237.9 130.00 244.5 130.70 251.0 130.70M231.4 133.10C237.9 133.17 244.5 134.40 251.0 134.40M231.4 134.40C237.9 134.47 244.5 134.40 251.0 134.40M231.4 136.40C237.9 136.41 244.5 135.60 251.0 135.60M231.4 136.40C237.9 136.41 244.5 137.40 251.0 137.40M231.4 140.50C237.9 140.50 244.5 140.50 251.0 140.50M231.4 141.90C237.9 142.15 244.5 142.70 251.0 142.70M231.4 142.70C237.9 142.95 244.5 142.70 251.0 142.70M231.4 151.00C237.9 151.00 244.5 150.70 251.0 150.70M231.4 158.70C237.9 158.80 244.5 159.30 251.0 159.30M231.4 164.80C237.9 164.60 244.5 164.20 251.0 164.20M231.4 165.20C237.9 165.10 244.5 165.20 251.0 165.20M231.4 170.70C237.9 170.90 244.5 172.60 251.0 172.60M231.4 172.00C237.9 172.40 244.5 173.80 251.0 173.80M231.4 182.40C237.9 180.47 244.5 176.30 251.0 176.30M231.4 184.20C237.9 182.37 244.5 176.90 251.0 176.90M231.4 190.40C237.9 190.70 244.5 191.60 251.0 191.60M231.4 192.60C237.9 192.30 244.5 191.60 251.0 191.60M231.4 194.70C237.9 195.00 244.5 196.50 251.0 196.50M231.4 196.50C237.9 196.80 244.5 196.50 251.0 196.50M231.4 197.50C237.9 197.87 244.5 196.90 251.0 196.90M231.4 205.50C237.9 206.82 244.5 212.20 251.0 212.20M231.4 207.90C237.9 209.22 244.5 212.20 251.0 212.20M231.4 211.60C237.9 211.60 244.5 212.20 251.0 212.20M231.4 214.10C237.9 214.15 244.5 212.80 251.0 212.80M231.4 216.50C237.9 216.30 244.5 215.30 251.0 215.30M231.4 220.20C237.9 221.12 244.5 222.00 251.0 222.00M231.4 222.00C237.9 223.13 244.5 223.30 251.0 223.30M231.4 229.40C237.9 229.50 244.5 229.40 251.0 229.40M231.4 230.60C237.9 230.70 244.5 229.40 251.0 229.40M251.0 121.70C254.3 121.70 257.7 121.53 261.0 121.50M251.0 123.90C254.3 123.90 257.7 125.66 261.0 125.80M251.0 126.40C254.3 126.40 257.7 125.66 261.0 125.80M251.0 129.50C254.3 129.50 257.7 130.00 261.0 130.10M251.0 130.70C254.3 130.70 257.7 131.20 261.0 131.30M251.0 134.40C254.3 134.40 257.7 134.30 261.0 134.40M251.0 135.60C254.3 135.60 257.7 136.00 261.0 136.20M251.0 137.40C254.3 137.40 257.7 137.78 261.0 138.00M251.0 140.50C254.3 140.50 257.7 140.70 261.0 140.80M251.0 142.70C254.3 142.70 257.7 142.58 261.0 142.70M251.0 150.70C254.3 150.70 257.7 151.20 261.0 151.30M251.0 159.30C254.3 159.30 257.7 159.30 261.0 159.30M251.0 164.20C254.3 164.20 257.7 164.20 261.0 164.20M251.0 165.20C254.3 165.20 257.7 165.20 261.0 165.20M251.0 172.60C254.3 172.60 257.7 173.27 261.0 173.20M251.0 173.80C254.3 173.80 257.7 173.27 261.0 173.20M251.0 176.30C254.3 176.30 257.7 176.60 261.0 176.90M251.0 176.90C254.3 176.90 257.7 177.70 261.0 178.10M251.0 191.60C254.3 191.60 257.7 191.60 261.0 191.60M251.0 196.50C254.3 196.50 257.7 196.50 261.0 196.50M251.0 196.90C254.3 196.90 257.7 196.90 261.0 196.90M251.0 212.20C254.3 212.20 257.7 212.27 261.0 212.20M251.0 212.80C254.3 212.80 257.7 212.27 261.0 212.20M251.0 215.30C254.3 215.30 257.7 215.30 261.0 215.30M251.0 222.00C254.3 222.00 257.7 222.58 261.0 222.70M251.0 223.30C254.3 223.30 257.7 223.20 261.0 223.30M251.0 229.40C254.3 229.40 257.7 229.40 261.0 229.40M261.0 121.50C264.3 121.47 267.7 121.50 271.0 121.50M261.0 125.80C264.3 125.94 267.7 125.80 271.0 125.80M261.0 130.10C264.3 130.20 267.7 130.10 271.0 130.10M261.0 131.30C264.3 131.40 267.7 131.30 271.0 131.30M261.0 134.40C264.3 134.50 267.7 135.00 271.0 135.00M261.0 136.20C264.3 136.40 267.7 136.80 271.0 136.80M261.0 138.00C264.3 138.22 267.7 138.70 271.0 138.70M261.0 140.80C264.3 140.90 267.7 141.10 271.0 141.10M261.0 142.70C264.3 142.82 267.7 143.40 271.0 143.40M261.0 151.30C264.3 151.40 267.7 151.30 271.0 151.30M261.0 159.30C264.3 159.30 267.7 159.30 271.0 159.30M261.0 164.20C264.3 164.20 267.7 164.20 271.0 164.20M261.0 165.20C264.3 165.20 267.7 165.20 271.0 165.20M261.0 173.20C264.3 173.13 267.7 172.60 271.0 172.60M261.0 176.90C264.3 177.20 267.7 178.10 271.0 178.10M261.0 178.10C264.3 178.50 267.7 179.30 271.0 179.30M261.0 191.60C264.3 191.60 267.7 191.60 271.0 191.60M261.0 196.50C264.3 196.50 267.7 196.50 271.0 196.50M261.0 196.90C264.3 196.90 267.7 196.90 271.0 196.90M261.0 212.20C264.3 212.13 267.7 212.20 271.0 212.20M261.0 215.30C264.3 215.30 267.7 215.30 271.0 215.30M261.0 222.70C264.3 222.82 267.7 222.70 271.0 222.70M261.0 223.30C264.3 223.40 267.7 223.90 271.0 223.90M261.0 229.40C264.3 229.40 267.7 229.40 271.0 229.40M271.0 121.50C277.6 121.50 284.2 121.55 290.8 121.50M271.0 125.80C277.6 125.80 284.2 125.41 290.8 125.20M271.0 130.10C277.6 130.10 284.2 128.62 290.8 128.20M271.0 131.30C277.6 131.30 284.2 131.40 290.8 131.30M271.0 135.00C277.6 135.00 284.2 134.00 290.8 133.80M271.0 136.80C277.6 136.80 284.2 136.33 290.8 136.20M271.0 138.70C277.6 138.70 284.2 140.12 290.8 140.50M271.0 141.10C277.6 141.10 284.2 140.92 290.8 140.90M271.0 143.40C277.6 143.40 284.2 143.52 290.8 143.40M271.0 151.30C277.6 151.30 284.2 150.80 290.8 150.70M271.0 159.30C277.6 159.30 284.2 158.80 290.8 158.70M271.0 164.20C277.6 164.20 284.2 165.10 290.8 165.20M271.0 165.20C277.6 165.20 284.2 165.15 290.8 165.40M271.0 172.60C277.6 172.60 284.2 170.18 290.8 169.50M271.0 172.60C277.6 172.60 284.2 171.70 290.8 171.40M271.0 172.60C277.6 172.60 284.2 172.53 290.8 172.60M271.0 178.10C277.6 178.10 284.2 181.65 290.8 182.40M271.0 179.30C277.6 179.30 284.2 183.05 290.8 183.60M271.0 191.60C277.6 191.60 284.2 190.15 290.8 189.80M271.0 191.60C277.6 191.60 284.2 191.50 290.8 191.60M271.0 196.50C277.6 196.50 284.2 196.10 290.8 196.50M271.0 196.90C277.6 196.90 284.2 197.17 290.8 197.50M271.0 196.90C277.6 196.90 284.2 199.38 290.8 200.00M271.0 212.20C277.6 212.20 284.2 208.78 290.8 207.90M271.0 212.20C277.6 212.20 284.2 211.00 290.8 210.40M271.0 215.30C277.6 215.30 284.2 214.83 290.8 214.70M271.0 215.30C277.6 215.30 284.2 216.63 290.8 216.50M271.0 222.70C277.6 222.70 284.2 221.84 290.8 221.40M271.0 223.90C277.6 223.90 284.2 221.84 290.8 221.40M271.0 229.40C277.6 229.40 284.2 229.03 290.8 228.80M271.0 229.40C277.6 229.40 284.2 230.30 290.8 230.60M290.8 121.50C297.4 121.45 304.0 121.20 310.6 121.20M290.8 125.20C297.4 124.99 304.0 123.90 310.6 123.90M290.8 125.20C297.4 124.99 304.0 125.20 310.6 125.20M290.8 128.20C297.4 127.78 304.0 127.60 310.6 127.60M290.8 131.30C297.4 131.20 304.0 130.70 310.6 130.70M290.8 133.80C297.4 133.60 304.0 133.80 310.6 133.80M290.8 136.20C297.4 136.07 304.0 135.60 310.6 135.60M290.8 136.20C297.4 136.07 304.0 136.20 310.6 136.20M290.8 140.50C297.4 140.88 304.0 141.00 310.6 141.00M290.8 140.90C297.4 140.88 304.0 141.00 310.6 141.00M290.8 143.40C297.4 143.28 304.0 142.70 310.6 142.70M290.8 150.70C297.4 150.60 304.0 150.70 310.6 150.70M290.8 158.70C297.4 158.60 304.0 158.70 310.6 158.70M290.8 165.20C297.4 165.30 304.0 164.80 310.6 164.80M290.8 165.40C297.4 165.65 304.0 166.70 310.6 166.70M290.8 169.50C297.4 168.82 304.0 168.50 310.6 168.50M290.8 171.40C297.4 171.10 304.0 170.80 310.6 170.80M290.8 172.60C297.4 172.67 304.0 173.00 310.6 173.00M290.8 182.40C297.4 183.15 304.0 182.60 310.6 182.60M290.8 183.60C297.4 184.15 304.0 182.60 310.6 182.60M290.8 189.80C297.4 189.45 304.0 189.50 310.6 189.50M290.8 191.60C297.4 191.70 304.0 191.10 310.6 191.10M290.8 191.60C297.4 191.70 304.0 193.00 310.6 193.00M290.8 196.50C297.4 196.90 304.0 198.90 310.6 198.90M290.8 197.50C297.4 197.83 304.0 198.90 310.6 198.90M290.8 200.00C297.4 200.62 304.0 200.60 310.6 200.60M290.8 207.90C297.4 207.02 304.0 206.90 310.6 206.90M290.8 210.40C297.4 209.80 304.0 208.60 310.6 208.60M290.8 214.70C297.4 214.57 304.0 214.50 310.6 214.50M290.8 216.50C297.4 216.37 304.0 214.50 310.6 214.50M290.8 221.40C297.4 220.96 304.0 221.20 310.6 221.20M290.8 228.80C297.4 228.57 304.0 228.00 310.6 228.00M290.8 230.60C297.4 230.90 304.0 231.20 310.6 231.20M310.6 121.20C317.0 121.20 323.5 119.58 329.9 118.40M310.6 123.90C317.0 123.90 323.5 123.40 329.9 123.30M310.6 125.20C317.0 125.20 323.5 125.50 329.9 125.80M310.6 127.60C317.0 127.60 323.5 127.70 329.9 127.60M310.6 130.70C317.0 130.70 323.5 129.80 329.9 130.10M310.6 133.80C317.0 133.80 323.5 132.72 329.9 132.50M310.6 135.60C317.0 135.60 323.5 135.80 329.9 135.60M310.6 136.20C317.0 136.20 323.5 138.10 329.9 138.50M310.6 141.00C317.0 141.00 323.5 139.70 329.9 139.30M310.6 142.70C317.0 142.70 323.5 142.33 329.9 142.10M310.6 142.70C317.0 142.70 323.5 143.79 329.9 144.00M310.6 150.70C317.0 150.70 323.5 151.20 329.9 151.30M310.6 150.70C317.0 150.70 323.5 152.78 329.9 153.20M310.6 158.70C317.0 158.70 323.5 159.70 329.9 159.90M310.6 164.80C317.0 164.80 323.5 162.30 329.9 161.80M310.6 164.80C317.0 164.80 323.5 164.58 329.9 164.50M310.6 166.70C317.0 166.70 323.5 168.41 329.9 168.10M310.6 168.50C317.0 168.50 323.5 168.41 329.9 168.10M310.6 170.80C317.0 170.80 323.5 171.12 329.9 172.10M310.6 173.00C317.0 173.00 323.5 173.57 329.9 174.40M310.6 182.60C317.0 182.60 323.5 182.85 329.9 183.00M310.6 189.50C317.0 189.50 323.5 189.40 329.9 189.30M310.6 191.10C317.0 191.10 323.5 190.35 329.9 190.20M310.6 193.00C317.0 193.00 323.5 192.69 329.9 193.00M310.6 198.90C317.0 198.90 323.5 197.82 329.9 197.70M310.6 200.60C317.0 200.60 323.5 199.60 329.9 199.20M310.6 206.90C317.0 206.90 323.5 204.73 329.9 204.00M310.6 206.90C317.0 206.90 323.5 206.17 329.9 206.40M310.6 208.60C317.0 208.60 323.5 211.17 329.9 211.60M310.6 214.50C317.0 214.50 323.5 212.75 329.9 212.60M310.6 221.20C317.0 221.20 323.5 220.93 329.9 220.70M310.6 228.00C317.0 228.00 323.5 226.83 329.9 226.50M310.6 231.20C317.0 231.20 323.5 230.37 329.9 230.30M329.9 118.40C336.3 117.22 342.8 114.10 349.2 114.10M329.9 123.30C336.3 123.20 342.8 123.30 349.2 123.30M329.9 125.80C336.3 126.10 342.8 127.00 349.2 127.00M329.9 127.60C336.3 127.50 342.8 127.00 349.2 127.00M329.9 130.10C336.3 130.40 342.8 132.50 349.2 132.50M329.9 132.50C336.3 132.28 342.8 132.50 349.2 132.50M329.9 135.60C336.3 135.40 342.8 134.40 349.2 134.40M329.9 138.50C336.3 138.90 342.8 138.60 349.2 138.60M329.9 139.30C336.3 138.90 342.8 138.60 349.2 138.60M329.9 142.10C336.3 141.87 342.8 141.30 349.2 141.30M329.9 144.00C336.3 144.21 342.8 143.40 349.2 143.40M329.9 144.00C336.3 144.21 342.8 145.20 349.2 145.20M329.9 151.30C336.3 151.40 342.8 151.30 349.2 151.30M329.9 153.20C336.3 153.62 342.8 153.20 349.2 153.20M329.9 159.90C336.3 160.10 342.8 159.90 349.2 159.90M329.9 161.80C336.3 161.30 342.8 161.80 349.2 161.80M329.9 164.50C336.3 164.42 342.8 164.30 349.2 164.30M329.9 168.10C336.3 167.79 342.8 164.30 349.2 164.30M329.9 172.10C336.3 173.08 342.8 176.70 349.2 176.70M329.9 174.40C336.3 175.23 342.8 178.00 349.2 178.00M329.9 183.00C336.3 183.15 342.8 183.50 349.2 183.50M329.9 189.30C336.3 189.20 342.8 188.90 349.2 188.90M329.9 190.20C336.3 190.05 342.8 190.20 349.2 190.20M329.9 193.00C336.3 193.31 342.8 193.90 349.2 193.90M329.9 193.00C336.3 193.31 342.8 194.90 349.2 194.90M329.9 197.70C336.3 197.58 342.8 198.20 349.2 198.20M329.9 199.20C336.3 198.80 342.8 198.20 349.2 198.20M329.9 204.00C336.3 203.27 342.8 202.50 349.2 202.50M329.9 206.40C336.3 206.63 342.8 208.30 349.2 208.30M329.9 211.60C336.3 212.03 342.8 211.20 349.2 211.20M329.9 212.60C336.3 212.45 342.8 213.60 349.2 213.60M329.9 220.70C336.3 220.47 342.8 219.80 349.2 219.80M329.9 226.50C336.3 226.17 342.8 226.00 349.2 226.00M329.9 230.30C336.3 230.23 342.8 230.80 349.2 230.80M74.0 270.30C80.4 270.30 86.9 271.70 93.3 272.04M74.0 274.90C80.4 274.90 86.9 272.13 93.3 272.08M74.0 281.50C80.4 281.50 86.9 280.62 93.3 280.28M74.0 281.50C80.4 281.50 86.9 280.07 93.3 279.73M74.0 283.40C80.4 283.40 86.9 283.97 93.3 283.91M74.0 285.70C80.4 285.70 86.9 285.54 93.3 285.27M74.0 287.10C80.4 287.10 86.9 285.54 93.3 285.27M74.0 288.70C80.4 288.70 86.9 289.29 93.3 289.29M74.0 290.70C80.4 290.70 86.9 291.97 93.3 292.02M74.0 292.60C80.4 292.60 86.9 292.97 93.3 292.82M74.0 294.60C80.4 294.60 86.9 292.97 93.3 292.82M74.0 296.30C80.4 296.30 86.9 296.71 93.3 296.49M74.0 296.30C80.4 296.30 86.9 297.81 93.3 297.92M74.0 302.30C80.4 302.30 86.9 300.14 93.3 299.59M74.0 304.60C80.4 304.60 86.9 304.15 93.3 303.96M74.0 304.60C80.4 304.60 86.9 306.73 93.3 306.95M74.0 304.60C80.4 304.60 86.9 306.08 93.3 306.30M74.0 309.20C80.4 309.20 86.9 308.48 93.3 308.31M74.0 310.10C80.4 310.10 86.9 311.53 93.3 311.21M74.0 313.40C80.4 313.40 86.9 314.00 93.3 314.23M74.0 314.80C80.4 314.80 86.9 315.73 93.3 315.95M74.0 319.70C80.4 319.70 86.9 317.70 93.3 317.37M74.0 322.00C80.4 322.00 86.9 321.66 93.3 321.22M74.0 322.00C80.4 322.00 86.9 320.58 93.3 320.85M74.0 324.30C80.4 324.30 86.9 325.88 93.3 326.05M74.0 324.30C80.4 324.30 86.9 325.63 93.3 326.03M74.0 328.60C80.4 328.60 86.9 328.48 93.3 328.16M74.0 330.30C80.4 330.30 86.9 329.98 93.3 329.38M74.0 334.60C80.4 334.60 86.9 332.75 93.3 332.59M74.0 336.50C80.4 336.50 86.9 335.93 93.3 335.61M74.0 336.50C80.4 336.50 86.9 336.80 93.3 336.48M74.0 338.80C80.4 338.80 86.9 340.59 93.3 341.36M74.0 342.80C80.4 342.80 86.9 343.74 93.3 343.84M74.0 347.10C80.4 347.10 86.9 347.91 93.3 347.29M74.0 348.00C80.4 348.00 86.9 348.97 93.3 349.85M74.0 348.00C80.4 348.00 86.9 350.52 93.3 351.40M74.0 355.00C80.4 355.00 86.9 354.26 93.3 354.19M74.0 358.90C80.4 358.90 86.9 360.63 93.3 359.66M74.0 370.60C80.4 370.60 86.9 360.63 93.3 359.66M93.3 272.04C99.7 272.37 106.1 272.30 112.5 272.30M93.3 272.08C99.7 272.04 106.1 274.60 112.5 274.60M93.3 280.28C99.7 279.95 106.1 279.50 112.5 279.50M93.3 279.73C99.7 279.40 106.1 279.50 112.5 279.50M93.3 283.91C99.7 283.86 106.1 283.10 112.5 283.10M93.3 285.27C99.7 285.00 106.1 285.10 112.5 285.10M93.3 289.29C99.7 289.29 106.1 288.70 112.5 288.70M93.3 292.02C99.7 292.07 106.1 291.00 112.5 291.00M93.3 292.82C99.7 292.67 106.1 293.00 112.5 293.00M93.3 296.49C99.7 296.27 106.1 295.00 112.5 295.00M93.3 297.92C99.7 298.04 106.1 297.00 112.5 297.00M93.3 299.59C99.7 299.04 106.1 299.00 112.5 299.00M93.3 303.96C99.7 303.76 106.1 302.60 112.5 302.60M93.3 303.96C99.7 303.76 106.1 304.20 112.5 304.20M93.3 306.95C99.7 307.16 106.1 305.90 112.5 305.90M93.3 306.30C99.7 306.51 106.1 305.90 112.5 305.90M93.3 308.31C99.7 308.15 106.1 308.20 112.5 308.20M93.3 311.21C99.7 310.89 106.1 308.20 112.5 308.20M93.3 314.23C99.7 314.47 106.1 314.80 112.5 314.80M93.3 315.95C99.7 316.16 106.1 316.10 112.5 316.10M93.3 317.37C99.7 317.04 106.1 317.70 112.5 317.70M93.3 321.22C99.7 320.79 106.1 319.40 112.5 319.40M93.3 320.85C99.7 321.12 106.1 323.60 112.5 323.60M93.3 326.05C99.7 326.21 106.1 325.30 112.5 325.30M93.3 326.03C99.7 326.43 106.1 326.70 112.5 326.70M93.3 328.16C99.7 327.85 106.1 326.70 112.5 326.70M93.3 329.38C99.7 328.78 106.1 326.70 112.5 326.70M93.3 332.59C99.7 332.42 106.1 333.60 112.5 333.60M93.3 335.61C99.7 335.30 106.1 334.60 112.5 334.60M93.3 336.48C99.7 336.16 106.1 334.60 112.5 334.60M93.3 341.36C99.7 342.13 106.1 343.40 112.5 343.40M93.3 343.84C99.7 343.94 106.1 343.40 112.5 343.40M93.3 347.29C99.7 346.67 106.1 343.40 112.5 343.40M93.3 349.85C99.7 350.73 106.1 353.30 112.5 353.30M93.3 351.40C99.7 352.28 106.1 353.30 112.5 353.30M93.3 354.19C99.7 354.12 106.1 354.60 112.5 354.60M93.3 359.66C99.7 358.69 106.1 357.80 112.5 357.80M93.3 359.66C99.7 358.69 106.1 360.00 112.5 360.00M112.5 272.30C115.9 272.30 119.4 272.63 122.8 272.88M112.5 274.60C115.9 274.60 119.4 274.20 122.8 274.07M112.5 279.50C115.9 279.50 119.4 278.91 122.8 279.01M112.5 283.10C115.9 283.10 119.4 284.61 122.8 284.77M112.5 285.10C115.9 285.10 119.4 286.20 122.8 286.35M112.5 288.70C115.9 288.70 119.4 287.31 122.8 287.36M112.5 291.00C115.9 291.00 119.4 292.11 122.8 292.34M112.5 293.00C115.9 293.00 119.4 293.89 122.8 294.04M112.5 295.00C115.9 295.00 119.4 294.66 122.8 294.48M112.5 297.00C115.9 297.00 119.4 297.06 122.8 296.94M112.5 299.00C115.9 299.00 119.4 299.33 122.8 299.38M112.5 302.60C115.9 302.60 119.4 303.46 122.8 303.50M112.5 304.20C115.9 304.20 119.4 304.72 122.8 304.93M112.5 305.90C115.9 305.90 119.4 305.25 122.8 305.52M112.5 308.20C115.9 308.20 119.4 309.52 122.8 309.74M112.5 308.20C115.9 308.20 119.4 307.76 122.8 307.98M112.5 314.80C115.9 314.80 119.4 315.02 122.8 314.84M112.5 316.10C115.9 316.10 119.4 316.96 122.8 317.22M112.5 317.70C115.9 317.70 119.4 317.29 122.8 317.29M112.5 319.40C115.9 319.40 119.4 320.21 122.8 320.26M112.5 323.60C115.9 323.60 119.4 321.74 122.8 321.53M112.5 325.30C115.9 325.30 119.4 325.60 122.8 325.44M112.5 326.70C115.9 326.70 119.4 327.61 122.8 327.55M112.5 333.60C115.9 333.60 119.4 332.03 122.8 331.53M112.5 334.60C115.9 334.60 119.4 334.73 122.8 334.40M112.5 343.40C115.9 343.40 119.4 343.12 122.8 343.50M112.5 353.30C115.9 353.30 119.4 353.57 122.8 353.62M112.5 354.60C115.9 354.60 119.4 354.44 122.8 354.60M112.5 357.80C115.9 357.80 119.4 356.72 122.8 356.36M112.5 360.00C115.9 360.00 119.4 358.96 122.8 358.76M122.8 272.88C126.2 273.13 129.7 273.80 133.1 273.80M122.8 274.07C126.2 273.93 129.7 273.80 133.1 273.80M122.8 279.01C126.2 279.11 129.7 280.10 133.1 280.10M122.8 284.77C126.2 284.94 129.7 284.10 133.1 284.10M122.8 286.35C126.2 286.50 129.7 286.00 133.1 286.00M122.8 287.36C126.2 287.41 129.7 289.00 133.1 289.00M122.8 292.34C126.2 292.58 129.7 292.40 133.1 292.40M122.8 294.04C126.2 294.19 129.7 293.90 133.1 293.90M122.8 294.48C126.2 294.30 129.7 293.90 133.1 293.90M122.8 296.94C126.2 296.81 129.7 295.80 133.1 295.80M122.8 296.94C126.2 296.81 129.7 297.00 133.1 297.00M122.8 299.38C126.2 299.43 129.7 299.30 133.1 299.30M122.8 303.50C126.2 303.54 129.7 302.60 133.1 302.60M122.8 303.50C126.2 303.54 129.7 303.90 133.1 303.90M122.8 304.93C126.2 305.15 129.7 305.50 133.1 305.50M122.8 305.52C126.2 305.79 129.7 307.50 133.1 307.50M122.8 309.74C126.2 309.95 129.7 309.50 133.1 309.50M122.8 307.98C126.2 308.19 129.7 309.50 133.1 309.50M122.8 314.84C126.2 314.66 129.7 311.80 133.1 311.80M122.8 314.84C126.2 314.66 129.7 314.80 133.1 314.80M122.8 314.84C126.2 314.66 129.7 315.70 133.1 315.70M122.8 317.22C126.2 317.49 129.7 317.70 133.1 317.70M122.8 317.29C126.2 317.29 129.7 317.70 133.1 317.70M122.8 320.26C126.2 320.31 129.7 319.70 133.1 319.70M122.8 321.53C126.2 321.31 129.7 322.30 133.1 322.30M122.8 325.44C126.2 325.27 129.7 324.30 133.1 324.30M122.8 327.55C126.2 327.48 129.7 326.30 133.1 326.30M122.8 331.53C126.2 331.03 129.7 330.60 133.1 330.60M122.8 334.40C126.2 334.07 129.7 332.60 133.1 332.60M122.8 343.50C126.2 343.89 129.7 345.70 133.1 345.70M122.8 353.62C126.2 353.67 129.7 353.60 133.1 353.60M122.8 354.60C126.2 354.77 129.7 355.60 133.1 355.60M122.8 356.36C126.2 355.99 129.7 355.60 133.1 355.60M122.8 358.76C126.2 358.56 129.7 358.80 133.1 358.80M133.1 273.80C139.7 273.80 146.2 273.31 152.8 272.89M133.1 273.80C139.7 273.80 146.2 276.14 152.8 275.72M133.1 280.10C139.7 280.10 146.2 280.85 152.8 281.02M133.1 284.10C139.7 284.10 146.2 285.46 152.8 286.03M133.1 286.00C139.7 286.00 146.2 285.34 152.8 285.59M133.1 289.00C139.7 289.00 146.2 290.90 152.8 290.64M133.1 292.40C139.7 292.40 146.2 293.71 152.8 293.87M133.1 293.90C139.7 293.90 146.2 293.71 152.8 293.87M133.1 295.80C139.7 295.80 146.2 297.43 152.8 297.38M133.1 297.00C139.7 297.00 146.2 297.43 152.8 297.38M133.1 299.30C139.7 299.30 146.2 299.05 152.8 298.33M133.1 302.60C139.7 302.60 146.2 301.21 152.8 301.21M133.1 303.90C139.7 303.90 146.2 305.37 152.8 305.53M133.1 305.50C139.7 305.50 146.2 305.37 152.8 305.53M133.1 307.50C139.7 307.50 146.2 305.37 152.8 305.53M133.1 309.50C139.7 309.50 146.2 310.02 152.8 309.74M133.1 309.50C139.7 309.50 146.2 309.56 152.8 309.27M133.1 311.80C139.7 311.80 146.2 312.34 152.8 312.68M133.1 314.80C139.7 314.80 146.2 313.50 152.8 313.34M133.1 315.70C139.7 315.70 146.2 315.19 152.8 314.87M133.1 317.70C139.7 317.70 146.2 316.92 152.8 316.99M133.1 319.70C139.7 319.70 146.2 316.92 152.8 316.99M133.1 322.30C139.7 322.30 146.2 324.14 152.8 324.46M133.1 324.30C139.7 324.30 146.2 324.14 152.8 324.46M133.1 326.30C139.7 326.30 146.2 326.65 152.8 326.81M133.1 330.60C139.7 330.60 146.2 329.36 152.8 329.19M133.1 332.60C139.7 332.60 146.2 332.25 152.8 332.25M133.1 332.60C139.7 332.60 146.2 335.40 152.8 336.39M133.1 332.60C139.7 332.60 146.2 337.77 152.8 338.76M133.1 345.70C139.7 345.70 146.2 341.95 152.8 341.64M133.1 345.70C139.7 345.70 146.2 344.56 152.8 344.46M133.1 345.70C139.7 345.70 146.2 347.86 152.8 348.03M133.1 353.60C139.7 353.60 146.2 353.22 152.8 352.82M133.1 355.60C139.7 355.60 146.2 356.86 152.8 356.06M133.1 358.80C139.7 358.80 146.2 356.86 152.8 356.06M133.1 367.80C139.7 367.80 146.2 365.89 152.8 365.29M133.1 367.80C139.7 367.80 146.2 367.63 152.8 367.03M133.1 367.80C139.7 367.80 146.2 368.65 152.8 368.05M133.1 375.40C139.7 375.40 146.2 374.73 152.8 374.73M133.1 375.80C139.7 375.80 146.2 377.42 152.8 377.46M152.8 272.89C159.3 272.47 165.9 271.30 172.4 271.30M152.8 275.72C159.3 275.30 165.9 271.30 172.4 271.30M152.8 281.02C159.3 281.18 165.9 281.10 172.4 281.10M152.8 286.03C159.3 286.59 165.9 287.50 172.4 287.50M152.8 285.59C159.3 285.84 165.9 287.50 172.4 287.50M152.8 290.64C159.3 290.39 165.9 287.50 172.4 287.50M152.8 293.87C159.3 294.03 165.9 293.90 172.4 293.90M152.8 297.38C159.3 297.33 165.9 295.00 172.4 295.00M152.8 298.33C159.3 297.61 165.9 295.00 172.4 295.00M152.8 301.21C159.3 301.21 165.9 302.60 172.4 302.60M152.8 305.53C159.3 305.70 165.9 307.80 172.4 307.80M152.8 309.74C159.3 309.46 165.9 307.80 172.4 307.80M152.8 309.27C159.3 308.99 165.9 307.80 172.4 307.80M152.8 312.68C159.3 313.01 165.9 313.80 172.4 313.80M152.8 313.34C159.3 313.17 165.9 313.80 172.4 313.80M152.8 314.87C159.3 314.56 165.9 313.80 172.4 313.80M152.8 316.99C159.3 317.06 165.9 321.00 172.4 321.00M152.8 324.46C159.3 324.77 165.9 325.00 172.4 325.00M152.8 326.81C159.3 326.98 165.9 327.30 172.4 327.30M152.8 329.19C159.3 329.03 165.9 329.60 172.4 329.60M152.8 332.25C159.3 332.25 165.9 332.60 172.4 332.60M152.8 336.39C159.3 337.37 165.9 338.50 172.4 338.50M152.8 338.76C159.3 339.74 165.9 338.50 172.4 338.50M152.8 341.64C159.3 341.32 165.9 343.80 172.4 343.80M152.8 344.46C159.3 344.36 165.9 345.10 172.4 345.10M152.8 348.03C159.3 348.19 165.9 346.70 172.4 346.70M152.8 352.82C159.3 352.42 165.9 351.20 172.4 351.20M152.8 356.06C159.3 355.27 165.9 351.20 172.4 351.20M152.8 365.29C159.3 364.69 165.9 364.20 172.4 364.20M152.8 367.03C159.3 366.43 165.9 364.20 172.4 364.20M152.8 368.05C159.3 367.45 165.9 364.20 172.4 364.20M152.8 374.73C159.3 374.73 165.9 375.40 172.4 375.40M152.8 377.46C159.3 377.51 165.9 376.50 172.4 376.50M152.8 377.46C159.3 377.51 165.9 377.20 172.4 377.20M172.4 271.30C179.0 271.30 185.5 267.87 192.1 267.78M172.4 281.10C179.0 281.10 185.5 283.63 192.1 283.96M172.4 287.50C179.0 287.50 185.5 286.39 192.1 286.64M172.4 293.90C179.0 293.90 185.5 292.40 192.1 292.55M172.4 295.00C179.0 295.00 185.5 297.72 192.1 298.55M172.4 302.60C179.0 302.60 185.5 303.39 192.1 303.49M172.4 302.60C179.0 302.60 185.5 303.31 192.1 303.64M172.4 307.80C179.0 307.80 185.5 305.93 192.1 305.61M172.4 307.80C179.0 307.80 185.5 308.86 192.1 308.54M172.4 313.80C179.0 313.80 185.5 314.10 192.1 313.98M172.4 313.80C179.0 313.80 185.5 315.60 192.1 315.91M172.4 321.00C179.0 321.00 185.5 320.28 192.1 319.85M172.4 325.00C179.0 325.00 185.5 323.94 192.1 323.61M172.4 327.30C179.0 327.30 185.5 325.30 192.1 325.35M172.4 329.60C179.0 329.60 185.5 330.31 192.1 329.98M172.4 332.60C179.0 332.60 185.5 331.86 192.1 331.86M172.4 332.60C179.0 332.60 185.5 332.39 192.1 332.77M172.4 338.50C179.0 338.50 185.5 337.73 192.1 337.78M172.4 338.50C179.0 338.50 185.5 340.43 192.1 340.70M172.4 343.80C179.0 343.80 185.5 343.28 192.1 343.00M172.4 345.10C179.0 345.10 185.5 345.64 192.1 345.35M172.4 346.70C179.0 346.70 185.5 346.37 192.1 345.36M172.4 351.20C179.0 351.20 185.5 346.37 192.1 345.36M172.4 364.20C179.0 364.20 185.5 361.34 192.1 359.58M172.4 364.20C179.0 364.20 185.5 362.23 192.1 362.33M172.4 375.40C179.0 375.40 185.5 371.69 192.1 370.23M172.4 376.50C179.0 376.50 185.5 371.69 192.1 370.23M172.4 377.20C179.0 377.20 185.5 371.65 192.1 370.20M192.1 267.78C198.7 267.70 205.2 270.80 211.8 270.80M192.1 283.96C198.7 284.30 205.2 283.10 211.8 283.10M192.1 286.64C198.7 286.89 205.2 289.00 211.8 289.00M192.1 292.55C198.7 292.70 205.2 294.80 211.8 294.80M192.1 298.55C198.7 299.39 205.2 300.00 211.8 300.00M192.1 303.49C198.7 303.59 205.2 303.20 211.8 303.20M192.1 303.64C198.7 303.97 205.2 304.60 211.8 304.60M192.1 305.61C198.7 305.30 205.2 305.90 211.8 305.90M192.1 308.54C198.7 308.22 205.2 305.90 211.8 305.90M192.1 313.98C198.7 313.86 205.2 313.10 211.8 313.10M192.1 315.91C198.7 316.23 205.2 315.70 211.8 315.70M192.1 319.85C198.7 319.42 205.2 318.40 211.8 318.40M192.1 323.61C198.7 323.28 205.2 323.00 211.8 323.00M192.1 325.35C198.7 325.40 205.2 327.60 211.8 327.60M192.1 329.98C198.7 329.64 205.2 327.60 211.8 327.60M192.1 331.86C198.7 331.86 205.2 332.60 211.8 332.60M192.1 332.77C198.7 333.16 205.2 334.90 211.8 334.90M192.1 337.78C198.7 337.83 205.2 338.80 211.8 338.80M192.1 340.70C198.7 340.96 205.2 340.10 211.8 340.10M192.1 343.00C198.7 342.72 205.2 342.10 211.8 342.10M192.1 345.35C198.7 345.07 205.2 343.40 211.8 343.40M192.1 345.36C198.7 344.34 205.2 343.40 211.8 343.40M192.1 359.58C198.7 357.81 205.2 353.60 211.8 353.60M192.1 362.33C198.7 362.43 205.2 364.80 211.8 364.80M192.1 370.23C198.7 368.77 205.2 368.50 211.8 368.50M192.1 370.20C198.7 368.75 205.2 368.50 211.8 368.50M211.8 270.80C218.3 270.80 224.9 269.55 231.4 270.42M211.8 270.80C218.3 270.80 224.9 272.00 231.4 272.87M211.8 283.10C218.3 283.10 224.9 279.18 231.4 278.52M211.8 289.00C218.3 289.00 224.9 288.09 231.4 287.99M211.8 289.00C218.3 289.00 224.9 289.73 231.4 289.97M211.8 294.80C218.3 294.80 224.9 294.45 231.4 294.20M211.8 294.80C218.3 294.80 224.9 295.77 231.4 296.18M211.8 300.00C218.3 300.00 224.9 299.66 231.4 300.02M211.8 303.20C218.3 303.20 224.9 302.93 231.4 302.76M211.8 304.60C218.3 304.60 224.9 303.78 231.4 303.38M211.8 305.90C218.3 305.90 224.9 307.53 231.4 307.70M211.8 313.10C218.3 313.10 224.9 311.05 231.4 310.87M211.8 313.10C218.3 313.10 224.9 310.86 231.4 310.68M211.8 313.10C218.3 313.10 224.9 312.79 231.4 312.61M211.8 315.70C218.3 315.70 224.9 314.74 231.4 314.61M211.8 318.40C218.3 318.40 224.9 320.20 231.4 320.27M211.8 323.00C218.3 323.00 224.9 322.59 231.4 322.39M211.8 327.60C218.3 327.60 224.9 328.73 231.4 328.42M211.8 332.60C218.3 332.60 224.9 332.08 231.4 331.58M211.8 332.60C218.3 332.60 224.9 331.64 231.4 331.79M211.8 334.90C218.3 334.90 224.9 334.78 231.4 334.55M211.8 334.90C218.3 334.90 224.9 335.44 231.4 335.87M211.8 338.80C218.3 338.80 224.9 338.14 231.4 337.93M211.8 340.10C218.3 340.10 224.9 341.24 231.4 341.30M211.8 342.10C218.3 342.10 224.9 341.24 231.4 341.30M211.8 343.40C218.3 343.40 224.9 344.68 231.4 344.35M211.8 353.60C218.3 353.60 224.9 349.15 231.4 349.05M211.8 353.60C218.3 353.60 224.9 352.02 231.4 351.92M211.8 353.60C218.3 353.60 224.9 353.61 231.4 353.67M211.8 364.80C218.3 364.80 224.9 362.61 231.4 362.74M211.8 364.80C218.3 364.80 224.9 365.56 231.4 365.69M211.8 368.50C218.3 368.50 224.9 367.15 231.4 366.87M211.8 368.50C218.3 368.50 224.9 372.60 231.4 373.04M231.4 270.42C237.9 271.28 244.5 276.00 251.0 276.00M231.4 272.87C237.9 273.73 244.5 276.00 251.0 276.00M231.4 278.52C237.9 277.86 244.5 277.20 251.0 277.20M231.4 278.52C237.9 277.86 244.5 278.50 251.0 278.50M231.4 287.99C237.9 287.89 244.5 288.40 251.0 288.40M231.4 289.97C237.9 290.20 244.5 290.40 251.0 290.40M231.4 294.20C237.9 293.95 244.5 293.30 251.0 293.30M231.4 296.18C237.9 296.60 244.5 297.30 251.0 297.30M231.4 300.02C237.9 300.39 244.5 302.20 251.0 302.20M231.4 302.76C237.9 302.60 244.5 302.20 251.0 302.20M231.4 303.38C237.9 302.98 244.5 302.20 251.0 302.20M231.4 307.70C237.9 307.86 244.5 306.10 251.0 306.10M231.4 307.70C237.9 307.86 244.5 309.00 251.0 309.00M231.4 310.87C237.9 310.68 244.5 312.00 251.0 312.00M231.4 310.68C237.9 310.49 244.5 312.00 251.0 312.00M231.4 312.61C237.9 312.42 244.5 312.00 251.0 312.00M231.4 314.61C237.9 314.48 244.5 314.90 251.0 314.90M231.4 320.27C237.9 320.33 244.5 318.80 251.0 318.80M231.4 322.39C237.9 322.19 244.5 321.80 251.0 321.80M231.4 328.42C237.9 328.10 244.5 325.70 251.0 325.70M231.4 331.58C237.9 331.08 244.5 329.60 251.0 329.60M231.4 331.79C237.9 331.94 244.5 333.50 251.0 333.50M231.4 334.55C237.9 334.31 244.5 333.50 251.0 333.50M231.4 335.87C237.9 336.31 244.5 337.50 251.0 337.50M231.4 337.93C237.9 337.71 244.5 337.50 251.0 337.50M231.4 341.30C237.9 341.35 244.5 341.40 251.0 341.40M231.4 344.35C237.9 344.01 244.5 341.40 251.0 341.40M231.4 349.05C237.9 348.95 244.5 353.00 251.0 353.00M231.4 351.92C237.9 351.82 244.5 353.00 251.0 353.00M231.4 353.67C237.9 353.74 244.5 354.00 251.0 354.00M231.4 362.74C237.9 362.88 244.5 365.60 251.0 365.60M231.4 365.69C237.9 365.82 244.5 365.60 251.0 365.60M231.4 366.87C237.9 366.59 244.5 366.80 251.0 366.80M231.4 373.04C237.9 373.47 244.5 371.10 251.0 371.10M251.0 276.00C254.3 276.00 257.7 273.47 261.0 273.19M251.0 277.20C254.3 277.20 257.7 276.87 261.0 276.79M251.0 278.50C254.3 278.50 257.7 279.91 261.0 279.93M251.0 288.40C254.3 288.40 257.7 289.11 261.0 288.96M251.0 290.40C254.3 290.40 257.7 290.79 261.0 290.63M251.0 293.30C254.3 293.30 257.7 292.54 261.0 292.54M251.0 297.30C254.3 297.30 257.7 296.87 261.0 296.87M251.0 302.20C254.3 302.20 257.7 299.83 261.0 299.33M251.0 306.10C254.3 306.10 257.7 305.72 261.0 305.07M251.0 309.00C254.3 309.00 257.7 308.19 261.0 307.70M251.0 312.00C254.3 312.00 257.7 312.56 261.0 312.39M251.0 314.90C254.3 314.90 257.7 314.35 261.0 314.35M251.0 318.80C254.3 318.80 257.7 317.91 261.0 317.91M251.0 321.80C254.3 321.80 257.7 324.04 261.0 324.20M251.0 325.70C254.3 325.70 257.7 324.04 261.0 324.20M251.0 329.60C254.3 329.60 257.7 328.49 261.0 328.15M251.0 333.50C254.3 333.50 257.7 332.05 261.0 331.73M251.0 337.50C254.3 337.50 257.7 336.48 261.0 336.48M251.0 341.40C254.3 341.40 257.7 340.32 261.0 340.22M251.0 341.40C254.3 341.40 257.7 342.26 261.0 342.77M251.0 353.00C254.3 353.00 257.7 352.06 261.0 352.13M251.0 354.00C254.3 354.00 257.7 354.16 261.0 354.36M251.0 365.60C254.3 365.60 257.7 362.05 261.0 360.84M251.0 366.80C254.3 366.80 257.7 362.31 261.0 361.09M251.0 371.10C254.3 371.10 257.7 372.57 261.0 373.89M251.0 371.10C254.3 371.10 257.7 374.38 261.0 375.89M261.0 273.19C264.3 272.90 267.7 274.30 271.0 274.30M261.0 276.79C264.3 276.71 267.7 276.70 271.0 276.70M261.0 279.93C264.3 279.95 267.7 278.60 271.0 278.60M261.0 288.96C264.3 288.81 267.7 287.50 271.0 287.50M261.0 290.63C264.3 290.46 267.7 289.40 271.0 289.40M261.0 292.54C264.3 292.54 267.7 293.30 271.0 293.30M261.0 296.87C264.3 296.87 267.7 297.30 271.0 297.30M261.0 299.33C264.3 298.83 267.7 299.20 271.0 299.20M261.0 305.07C264.3 304.42 267.7 302.20 271.0 302.20M261.0 307.70C264.3 307.22 267.7 306.10 271.0 306.10M261.0 312.39C264.3 312.23 267.7 311.00 271.0 311.00M261.0 314.35C264.3 314.35 267.7 314.90 271.0 314.90M261.0 317.91C264.3 317.91 267.7 318.80 271.0 318.80M261.0 324.20C264.3 324.35 267.7 324.70 271.0 324.70M261.0 328.15C264.3 327.82 267.7 327.60 271.0 327.60M261.0 331.73C264.3 331.41 267.7 331.60 271.0 331.60M261.0 336.48C264.3 336.48 267.7 337.50 271.0 337.50M261.0 340.22C264.3 340.12 267.7 340.80 271.0 340.80M261.0 342.77C264.3 343.27 267.7 342.40 271.0 342.40M261.0 342.77C264.3 343.27 267.7 346.30 271.0 346.30M261.0 352.13C264.3 352.19 267.7 353.40 271.0 353.40M261.0 354.36C264.3 354.56 267.7 355.20 271.0 355.20M261.0 360.84C264.3 359.62 267.7 358.30 271.0 358.30M261.0 361.09C264.3 359.88 267.7 359.50 271.0 359.50M261.0 373.89C264.3 375.21 267.7 379.00 271.0 379.00M261.0 375.89C264.3 377.41 267.7 380.20 271.0 380.20M271.0 274.30C277.6 274.30 284.2 271.18 290.8 270.03M271.0 276.70C277.6 276.70 284.2 275.35 290.8 275.32M271.0 278.60C277.6 278.60 284.2 279.41 290.8 279.06M271.0 278.60C277.6 278.60 284.2 281.33 290.8 281.83M271.0 287.50C277.6 287.50 284.2 288.16 290.8 287.90M271.0 289.40C277.6 289.40 284.2 290.35 290.8 290.96M271.0 293.30C277.6 293.30 284.2 293.49 290.8 293.46M271.0 293.30C277.6 293.30 284.2 293.62 290.8 293.87M271.0 297.30C277.6 297.30 284.2 295.96 290.8 295.91M271.0 299.20C277.6 299.20 284.2 298.41 290.8 298.33M271.0 302.20C277.6 302.20 284.2 301.15 290.8 301.23M271.0 302.20C277.6 302.20 284.2 303.29 290.8 303.65M271.0 306.10C277.6 306.10 284.2 307.41 290.8 307.50M271.0 311.00C277.6 311.00 284.2 312.36 290.8 312.28M271.0 314.90C277.6 314.90 284.2 314.77 290.8 314.59M271.0 314.90C277.6 314.90 284.2 315.80 290.8 315.83M271.0 318.80C277.6 318.80 284.2 319.36 290.8 319.29M271.0 324.70C277.6 324.70 284.2 322.44 290.8 322.16M271.0 324.70C277.6 324.70 284.2 322.32 290.8 322.37M271.0 327.60C277.6 327.60 284.2 328.13 290.8 328.11M271.0 331.60C277.6 331.60 284.2 331.38 290.8 331.31M271.0 331.60C277.6 331.60 284.2 333.14 290.8 333.40M271.0 337.50C277.6 337.50 284.2 337.43 290.8 337.30M271.0 340.80C277.6 340.80 284.2 340.61 290.8 340.33M271.0 342.40C277.6 342.40 284.2 341.89 290.8 341.77M271.0 346.30C277.6 346.30 284.2 346.99 290.8 346.23M271.0 346.30C277.6 346.30 284.2 346.41 290.8 347.16M271.0 353.40C277.6 353.40 284.2 352.85 290.8 353.16M271.0 355.20C277.6 355.20 284.2 355.09 290.8 355.11M271.0 355.20C277.6 355.20 284.2 354.75 290.8 354.97M271.0 358.30C277.6 358.30 284.2 359.97 290.8 360.98M271.0 359.50C277.6 359.50 284.2 363.81 290.8 364.63M271.0 359.50C277.6 359.50 284.2 364.10 290.8 365.12M271.0 359.50C277.6 359.50 284.2 363.53 290.8 364.54M271.0 379.00C277.6 379.00 284.2 372.62 290.8 370.51M271.0 380.20C277.6 380.20 284.2 371.88 290.8 371.78M290.8 270.03C297.4 268.88 304.0 267.40 310.6 267.40M290.8 275.32C297.4 275.28 304.0 276.50 310.6 276.50M290.8 279.06C297.4 278.71 304.0 276.50 310.6 276.50M290.8 281.83C297.4 282.33 304.0 281.80 310.6 281.80M290.8 281.83C297.4 282.33 304.0 283.10 310.6 283.10M290.8 287.90C297.4 287.63 304.0 285.20 310.6 285.20M290.8 287.90C297.4 287.63 304.0 286.60 310.6 286.60M290.8 287.90C297.4 287.63 304.0 288.30 310.6 288.30M290.8 290.96C297.4 291.58 304.0 293.10 310.6 293.10M290.8 293.46C297.4 293.42 304.0 293.10 310.6 293.10M290.8 293.87C297.4 294.12 304.0 294.80 310.6 294.80M290.8 295.91C297.4 295.86 304.0 297.00 310.6 297.00M290.8 298.33C297.4 298.24 304.0 298.70 310.6 298.70M290.8 301.23C297.4 301.31 304.0 302.70 310.6 302.70M290.8 303.65C297.4 304.02 304.0 304.40 310.6 304.40M290.8 307.50C297.4 307.59 304.0 306.10 310.6 306.10M290.8 307.50C297.4 307.59 304.0 308.30 310.6 308.30M290.8 312.28C297.4 312.21 304.0 310.50 310.6 310.50M290.8 312.28C297.4 312.21 304.0 312.10 310.6 312.10M290.8 314.59C297.4 314.41 304.0 313.80 310.6 313.80M290.8 315.83C297.4 315.87 304.0 315.10 310.6 315.10M290.8 319.29C297.4 319.22 304.0 318.40 310.6 318.40M290.8 322.16C297.4 321.88 304.0 323.00 310.6 323.00M290.8 322.37C297.4 322.42 304.0 325.00 310.6 325.00M290.8 328.11C297.4 328.10 304.0 326.70 310.6 326.70M290.8 328.11C297.4 328.10 304.0 328.90 310.6 328.90M290.8 331.31C297.4 331.24 304.0 331.20 310.6 331.20M290.8 333.40C297.4 333.67 304.0 333.20 310.6 333.20M290.8 337.30C297.4 337.17 304.0 335.50 310.6 335.50M290.8 337.30C297.4 337.17 304.0 338.10 310.6 338.10M290.8 340.33C297.4 340.05 304.0 339.10 310.6 339.10M290.8 341.77C297.4 341.65 304.0 341.70 310.6 341.70M290.8 346.23C297.4 345.46 304.0 341.70 310.6 341.70M290.8 347.16C297.4 347.91 304.0 350.80 310.6 350.80M290.8 353.16C297.4 353.48 304.0 355.30 310.6 355.30M290.8 355.11C297.4 355.13 304.0 355.30 310.6 355.30M290.8 354.97C297.4 355.18 304.0 356.50 310.6 356.50M290.8 360.98C297.4 362.00 304.0 364.40 310.6 364.40M290.8 364.63C297.4 365.45 304.0 364.40 310.6 364.40M290.8 365.12C297.4 366.14 304.0 365.60 310.6 365.60M290.8 364.54C297.4 365.56 304.0 365.60 310.6 365.60M290.8 370.51C297.4 368.39 304.0 366.30 310.6 366.30M290.8 371.78C297.4 371.68 304.0 379.60 310.6 379.60M310.6 267.40C317.0 267.40 323.5 266.71 329.9 267.20M310.6 276.50C317.0 276.50 323.5 275.98 329.9 275.68M310.6 281.80C317.0 281.80 323.5 280.40 329.9 280.37M310.6 283.10C317.0 283.10 323.5 284.94 329.9 285.04M310.6 285.20C317.0 285.20 323.5 284.94 329.9 285.04M310.6 286.60C317.0 286.60 323.5 287.97 329.9 288.04M310.6 288.30C317.0 288.30 323.5 289.39 329.9 289.50M310.6 293.10C317.0 293.10 323.5 291.20 329.9 290.92M310.6 294.80C317.0 294.80 323.5 294.19 329.9 293.96M310.6 294.80C317.0 294.80 323.5 295.04 329.9 295.12M310.6 297.00C317.0 297.00 323.5 297.17 329.9 297.25M310.6 298.70C317.0 298.70 323.5 297.17 329.9 297.25M310.6 302.70C317.0 302.70 323.5 302.87 329.9 302.81M310.6 304.40C317.0 304.40 323.5 304.20 329.9 304.28M310.6 306.10C317.0 306.10 323.5 306.25 329.9 306.39M310.6 308.30C317.0 308.30 323.5 310.11 329.9 310.19M310.6 310.50C317.0 310.50 323.5 310.11 329.9 310.19M310.6 312.10C317.0 312.10 323.5 311.05 329.9 311.09M310.6 313.80C317.0 313.80 323.5 314.95 329.9 314.99M310.6 315.10C317.0 315.10 323.5 314.95 329.9 314.99M310.6 318.40C317.0 318.40 323.5 317.69 329.9 317.54M310.6 318.40C317.0 318.40 323.5 318.16 329.9 318.28M310.6 323.00C317.0 323.00 323.5 321.52 329.9 321.21M310.6 325.00C317.0 325.00 323.5 324.39 329.9 324.14M310.6 326.70C317.0 326.70 323.5 326.66 329.9 326.67M310.6 328.90C317.0 328.90 323.5 330.45 329.9 330.48M310.6 331.20C317.0 331.20 323.5 330.45 329.9 330.48M310.6 333.20C317.0 333.20 323.5 332.20 329.9 332.13M310.6 335.50C317.0 335.50 323.5 335.39 329.9 335.34M310.6 338.10C317.0 338.10 323.5 337.35 329.9 337.12M310.6 339.10C317.0 339.10 323.5 337.35 329.9 337.12M310.6 341.70C317.0 341.70 323.5 342.54 329.9 342.31M310.6 341.70C317.0 341.70 323.5 342.62 329.9 343.03M310.6 341.70C317.0 341.70 323.5 345.32 329.9 345.97M310.6 350.80C317.0 350.80 323.5 348.17 329.9 347.57M310.6 355.30C317.0 355.30 323.5 353.79 329.9 353.49M310.6 355.30C317.0 355.30 323.5 354.77 329.9 355.05M310.6 356.50C317.0 356.50 323.5 361.70 329.9 363.94M329.9 267.20C336.3 267.68 342.8 270.30 349.2 270.30M329.9 275.68C336.3 275.38 342.8 274.70 349.2 274.70M329.9 280.37C336.3 280.33 342.8 281.60 349.2 281.60M329.9 285.04C336.3 285.15 342.8 284.10 349.2 284.10M329.9 285.04C336.3 285.15 342.8 285.50 349.2 285.50M329.9 288.04C336.3 288.10 342.8 287.00 349.2 287.00M329.9 289.50C336.3 289.62 342.8 289.00 349.2 289.00M329.9 290.92C336.3 290.64 342.8 291.40 349.2 291.40M329.9 293.96C336.3 293.72 342.8 293.40 349.2 293.40M329.9 295.12C336.3 295.20 342.8 295.30 349.2 295.30M329.9 297.25C336.3 297.32 342.8 297.30 349.2 297.30M329.9 297.25C336.3 297.32 342.8 299.30 349.2 299.30M329.9 302.81C336.3 302.74 342.8 301.50 349.2 301.50M329.9 302.81C336.3 302.74 342.8 303.40 349.2 303.40M329.9 304.28C336.3 304.36 342.8 304.90 349.2 304.90M329.9 306.39C336.3 306.52 342.8 306.90 349.2 306.90M329.9 310.19C336.3 310.26 342.8 309.30 349.2 309.30M329.9 311.09C336.3 311.12 342.8 312.30 349.2 312.30M329.9 314.99C336.3 315.03 342.8 313.70 349.2 313.70M329.9 314.99C336.3 315.03 342.8 315.70 349.2 315.70M329.9 317.54C336.3 317.39 342.8 317.50 349.2 317.50M329.9 318.28C336.3 318.39 342.8 319.10 349.2 319.10M329.9 321.21C336.3 320.89 342.8 321.10 349.2 321.10M329.9 324.14C336.3 323.89 342.8 323.50 349.2 323.50M329.9 326.67C336.3 326.68 342.8 325.50 349.2 325.50M329.9 326.67C336.3 326.68 342.8 328.00 349.2 328.00M329.9 330.48C336.3 330.50 342.8 329.40 349.2 329.40M329.9 330.48C336.3 330.50 342.8 331.00 349.2 331.00M329.9 332.13C336.3 332.06 342.8 332.80 349.2 332.80M329.9 335.34C336.3 335.29 342.8 334.20 349.2 334.20M329.9 335.34C336.3 335.29 342.8 336.20 349.2 336.20M329.9 337.12C336.3 336.89 342.8 338.00 349.2 338.00M329.9 342.31C336.3 342.09 342.8 340.20 349.2 340.20M329.9 342.31C336.3 342.09 342.8 341.80 349.2 341.80M329.9 343.03C336.3 343.45 342.8 344.20 349.2 344.20M329.9 345.97C336.3 346.62 342.8 345.60 349.2 345.60M329.9 347.57C336.3 346.97 342.8 347.20 349.2 347.20M329.9 353.49C336.3 353.19 342.8 353.50 349.2 353.50M329.9 355.05C336.3 355.32 342.8 354.50 349.2 354.50M329.9 355.05C336.3 355.32 342.8 358.30 349.2 358.30M329.9 363.94C336.3 366.17 342.8 369.90 349.2 369.90M74.0 393.50C74.5 392.42 76.0 389.25 77.0 387.00C78.0 384.75 79.0 382.08 80.0 380.00C81.0 377.92 82.0 375.95 83.0 374.50C84.0 373.05 84.5 372.30 86.0 371.30C87.5 370.30 89.7 369.52 92.0 368.50C94.3 367.48 97.7 366.15 100.0 365.20C102.3 364.25 103.9 363.47 106.0 362.80C108.1 362.13 110.5 361.25 112.5 361.20C114.5 361.15 116.1 361.90 118.0 362.50C119.9 363.10 122.2 364.08 124.0 364.80C125.8 365.52 127.5 366.30 129.0 366.80C130.5 367.30 132.4 367.63 133.1 367.80M74.0 393.50C74.8 392.33 77.2 388.67 79.0 386.50C80.8 384.33 82.8 382.03 85.0 380.50C87.2 378.97 90.0 377.97 92.0 377.30C94.0 376.63 95.3 376.52 97.0 376.50C98.7 376.48 100.3 376.87 102.0 377.20C103.7 377.53 105.2 378.18 107.0 378.50C108.8 378.82 110.7 379.13 112.5 379.10C114.3 379.07 116.1 378.65 118.0 378.30C119.9 377.95 122.2 377.38 124.0 377.00C125.8 376.62 127.5 376.23 129.0 376.00C130.5 375.77 132.4 375.67 133.1 375.60M74.0 393.50C75.0 392.80 77.8 391.00 80.0 389.30C82.2 387.60 84.7 384.92 87.0 383.30C89.3 381.68 92.0 380.27 94.0 379.60C96.0 378.93 97.3 378.93 99.0 379.30C100.7 379.67 102.4 380.77 104.0 381.80C105.6 382.83 107.1 384.57 108.5 385.50C109.9 386.43 111.2 387.32 112.5 387.40C113.8 387.48 115.1 386.82 116.5 386.00C117.9 385.18 119.4 383.70 121.0 382.50C122.6 381.30 124.5 379.78 126.0 378.80C127.5 377.82 128.8 377.10 130.0 376.60C131.2 376.10 132.6 375.93 133.1 375.80M74.0 382.00C74.7 381.88 76.3 381.88 78.0 381.30C79.7 380.72 82.0 379.33 84.0 378.50C86.0 377.67 88.0 376.75 90.0 376.30C92.0 375.85 94.0 375.68 96.0 375.80C98.0 375.92 100.2 376.58 102.0 377.00C103.8 377.42 105.2 377.95 107.0 378.30C108.8 378.65 111.6 378.97 112.5 379.10M349.2 393.50C348.8 392.58 347.7 389.80 347.0 388.00C346.3 386.20 345.6 384.53 344.9 382.70C344.2 380.87 343.6 378.83 343.0 377.00C342.4 375.17 341.9 373.37 341.3 371.70C340.7 370.03 340.1 368.32 339.3 367.00C338.5 365.68 337.4 364.63 336.4 363.80C335.3 362.97 334.7 362.38 333.0 362.00C331.3 361.62 328.5 361.42 326.0 361.50C323.5 361.58 320.6 362.02 318.0 362.50C315.4 362.98 311.8 364.08 310.6 364.40M349.2 393.50C348.3 393.05 345.7 391.98 344.0 390.80C342.3 389.62 340.4 387.95 338.8 386.40C337.2 384.85 335.9 383.13 334.5 381.50C333.1 379.87 331.7 378.18 330.3 376.60C328.9 375.02 327.4 373.42 326.0 372.00C324.6 370.58 323.4 369.10 321.7 368.10C320.0 367.10 317.9 366.42 316.0 366.00C314.1 365.58 311.5 365.67 310.6 365.60M349.2 393.50C347.9 392.73 343.8 390.23 341.3 388.90C338.8 387.57 336.4 386.93 334.0 385.50C331.6 384.07 328.9 382.30 326.6 380.30C324.3 378.30 322.0 375.58 320.0 373.50C318.0 371.42 316.0 369.00 314.4 367.80C312.8 366.60 311.2 366.55 310.6 366.30M310.6 379.60C311.5 379.72 314.1 380.03 316.0 380.30C317.9 380.57 319.7 381.00 322.0 381.20C324.3 381.40 327.0 381.45 330.0 381.50C333.0 381.55 336.8 381.50 340.0 381.50C343.2 381.50 347.7 381.50 349.2 381.50" fill="none" stroke="#ff0000" stroke-width="1.75" stroke-linecap="round"/></g>
<line x1="74.0" y1="393.5" x2="349.2" y2="393.5" stroke="#000" stroke-width="1.8" stroke-dasharray="7.4 3.7 1.7 4.2"/>
<line x1="372.5" y1="393.5" x2="647.8" y2="393.5" stroke="#000" stroke-width="1.8" stroke-dasharray="7.4 3.7 1.7 4.2" stroke-dashoffset="3.7"/>
<line x1="112.5" y1="0.5" x2="112.5" y2="407.0" stroke="#000" stroke-width="1.9" stroke-dasharray="7 6.7"/>
<line x1="133.1" y1="0.5" x2="133.1" y2="407.0" stroke="#000" stroke-width="1.9" stroke-dasharray="7 6.7"/>
<line x1="172.4" y1="0.5" x2="172.4" y2="407.0" stroke="#000" stroke-width="1.9" stroke-dasharray="7 6.7"/>
<line x1="211.8" y1="0.5" x2="211.8" y2="407.0" stroke="#000" stroke-width="1.9" stroke-dasharray="7 6.7"/>
<line x1="251.0" y1="0.5" x2="251.0" y2="407.0" stroke="#000" stroke-width="1.9" stroke-dasharray="7 6.7"/>
<line x1="271.0" y1="0.5" x2="271.0" y2="407.0" stroke="#000" stroke-width="1.9" stroke-dasharray="7 6.7"/>
<line x1="310.6" y1="0.5" x2="310.6" y2="407.0" stroke="#000" stroke-width="1.9" stroke-dasharray="7 6.7"/>
<rect x="146" y="8.5" width="150" height="104" fill="#fff"/>
<line x1="182.0" y1="12.599999999999998" x2="182.0" y2="84.0" stroke="#a0a0a0" stroke-width="1.3"/>
<line x1="182.0" y1="84.0" x2="289.90000000000003" y2="84.0" stroke="#a0a0a0" stroke-width="1.3"/>
<line x1="155.2" y1="109.3" x2="182.0" y2="84.0" stroke="#666" stroke-width="1.1"/>
<line x1="155.2" y1="37.9" x2="263.1" y2="37.9" stroke="#111" stroke-width="1.15"/>
<line x1="263.1" y1="37.9" x2="263.1" y2="109.3" stroke="#111" stroke-width="1.15"/>
<line x1="263.1" y1="109.3" x2="155.2" y2="109.3" stroke="#111" stroke-width="1.15"/>
<line x1="155.2" y1="109.3" x2="155.2" y2="37.9" stroke="#111" stroke-width="1.15"/>
<line x1="182.0" y1="12.599999999999998" x2="289.90000000000003" y2="12.599999999999998" stroke="#111" stroke-width="1.15"/>
<line x1="289.90000000000003" y1="12.599999999999998" x2="289.90000000000003" y2="84.0" stroke="#111" stroke-width="1.15"/>
<line x1="155.2" y1="37.9" x2="182.0" y2="12.599999999999998" stroke="#111" stroke-width="1.15"/>
<line x1="263.1" y1="37.9" x2="289.90000000000003" y2="12.599999999999998" stroke="#111" stroke-width="1.15"/>
<line x1="263.1" y1="109.3" x2="289.90000000000003" y2="84.0" stroke="#111" stroke-width="1.15"/>
<line x1="221.60" y1="61.70" x2="276.10" y2="61.70" stroke="#1f7ab8" stroke-width="1.25"/>
<line x1="276.10" y1="61.70" x2="263.10" y2="73.70" stroke="#1f7ab8" stroke-width="1.25"/>
<line x1="263.10" y1="73.70" x2="208.70" y2="73.90" stroke="#1f7ab8" stroke-width="1.25"/>
<line x1="208.70" y1="73.90" x2="208.70" y2="37.90" stroke="#1f7ab8" stroke-width="1.25"/>
<line x1="208.70" y1="37.90" x2="263.10" y2="37.90" stroke="#1f7ab8" stroke-width="1.25"/>
<line x1="263.10" y1="37.90" x2="276.10" y2="25.60" stroke="#1f7ab8" stroke-width="1.25"/>
<line x1="276.10" y1="25.60" x2="221.60" y2="25.60" stroke="#1f7ab8" stroke-width="1.25"/>
<line x1="221.60" y1="25.60" x2="221.60" y2="61.70" stroke="#1f7ab8" stroke-width="1.25"/>
<path d="M273.90 61.70L268.70 63.80L268.70 59.60Z" fill="#1f7ab8"/>
<path d="M264.72 72.21L267.11 67.14L269.96 70.22Z" fill="#1f7ab8"/>
<path d="M210.90 73.89L216.09 71.77L216.11 75.97Z" fill="#1f7ab8"/>
<path d="M208.70 40.10L210.80 45.30L206.60 45.30Z" fill="#1f7ab8"/>
<path d="M260.90 37.90L255.70 40.00L255.70 35.80Z" fill="#1f7ab8"/>
<path d="M274.50 27.11L272.17 32.21L269.28 29.16Z" fill="#1f7ab8"/>
<path d="M223.80 25.60L229.00 23.50L229.00 27.70Z" fill="#1f7ab8"/>
<path d="M221.60 59.50L219.50 54.30L223.70 54.30Z" fill="#1f7ab8"/>
<circle cx="155.20" cy="37.90" r="1.9" fill="#000"/>
<circle cx="208.70" cy="37.90" r="1.9" fill="#000"/>
<circle cx="263.10" cy="37.90" r="1.9" fill="#000"/>
<circle cx="155.20" cy="74.00" r="1.9" fill="#000"/>
<circle cx="155.20" cy="109.30" r="1.9" fill="#000"/>
<circle cx="209.15" cy="109.30" r="1.9" fill="#000"/>
<circle cx="263.10" cy="109.30" r="1.9" fill="#000"/>
<circle cx="208.70" cy="73.90" r="1.9" fill="#000"/>
<circle cx="263.10" cy="73.70" r="1.9" fill="#000"/>
<circle cx="168.60" cy="25.25" r="1.05" fill="#000"/>
<circle cx="235.95" cy="12.60" r="1.05" fill="#000"/>
<circle cx="289.90" cy="12.60" r="1.05" fill="#000"/>
<circle cx="182.00" cy="12.60" r="1.05" fill="#000"/>
<circle cx="168.60" cy="62.10" r="1.05" fill="#000"/>
<circle cx="168.60" cy="96.65" r="1.05" fill="#000"/>
<circle cx="182.00" cy="84.00" r="1.05" fill="#000"/>
<circle cx="222.55" cy="96.65" r="1.05" fill="#000"/>
<circle cx="235.95" cy="84.00" r="1.05" fill="#000"/>
<circle cx="276.50" cy="96.65" r="1.05" fill="#000"/>
<circle cx="289.90" cy="48.30" r="1.05" fill="#000"/>
<circle cx="276.10" cy="61.70" r="1.05" fill="#000"/>
<circle cx="276.10" cy="25.60" r="1.05" fill="#000"/>
<circle cx="221.60" cy="25.60" r="1.05" fill="#000"/>
<circle cx="182.00" cy="48.30" r="1.05" fill="#000"/>
<circle cx="235.95" cy="48.30" r="1.05" fill="#000"/>
<circle cx="221.60" cy="61.70" r="1.3" fill="#ff0000"/>
<text x="227.6" y="35.9" class="ins" text-anchor="middle">Z</text>
<text x="279.8" y="35.3" class="ins" text-anchor="middle">C</text>
<text x="202.7" y="47.6" class="ins" text-anchor="middle">D</text>
<text x="257.5" y="48.6" class="ins" text-anchor="middle">E</text>
<text x="227.6" y="58.5" class="ins" text-anchor="middle">Γ</text>
<text x="279.7" y="59.3" class="ins" text-anchor="middle">Y</text>
<text x="203.4" y="81.7" class="ins" text-anchor="middle">B</text>
<text x="257.2" y="82.8" class="ins" text-anchor="middle">A</text>
<rect x="536.4" y="16.4" width="45.0" height="21.700000000000003" fill="url(#pBa)" stroke="#555" stroke-width="1"/>
<text x="588.3" y="33.2" class="lg">Ba</text>
<rect x="536.4" y="41.4" width="45.0" height="22.4" fill="url(#pGa)" stroke="#555" stroke-width="1"/>
<text x="588.3" y="58.2" class="lg">Ga</text>
<rect x="536.4" y="67.4" width="45.0" height="22.19999999999999" fill="url(#pSe)" stroke="#555" stroke-width="1"/>
<text x="588.3" y="84.2" class="lg">Se</text>
<text x="65" y="398.40" class="tl" text-anchor="end">0</text>
<text x="655.6" y="398.40" class="tl">0</text>
<text x="65" y="351.19" class="tl" text-anchor="end">50</text>
<text x="655.6" y="351.19" class="tl">50</text>
<text x="65" y="303.97" class="tl" text-anchor="end">100</text>
<text x="655.6" y="303.97" class="tl">100</text>
<text x="65" y="256.76" class="tl" text-anchor="end">150</text>
<text x="655.6" y="256.76" class="tl">150</text>
<text x="65" y="209.55" class="tl" text-anchor="end">200</text>
<text x="655.6" y="209.55" class="tl">200</text>
<text x="65" y="162.34" class="tl" text-anchor="end">250</text>
<text x="655.6" y="162.34" class="tl">250</text>
<text x="65" y="115.12" class="tl" text-anchor="end">300</text>
<text x="655.6" y="115.12" class="tl">300</text>
<text x="65" y="67.91" class="tl" text-anchor="end">350</text>
<text x="655.6" y="67.91" class="tl">350</text>
<text x="65" y="20.70" class="tl" text-anchor="end">400</text>
<text x="655.6" y="20.70" class="tl">400</text>
<text x="372.50" y="428.7" class="tl" text-anchor="middle">0.0</text>
<text x="427.56" y="428.7" class="tl" text-anchor="middle">0.1</text>
<text x="482.62" y="428.7" class="tl" text-anchor="middle">0.2</text>
<text x="537.68" y="428.7" class="tl" text-anchor="middle">0.3</text>
<text x="592.74" y="428.7" class="tl" text-anchor="middle">0.4</text>
<text x="647.80" y="428.7" class="tl" text-anchor="middle">0.5</text>
<text x="76.70" y="429.9" class="hs" text-anchor="middle">Γ</text>
<text x="112.60" y="429.9" class="hs" text-anchor="middle">Y</text>
<text x="134.20" y="429.9" class="hs" text-anchor="middle">A</text>
<text x="171.20" y="429.9" class="hs" text-anchor="middle">B</text>
<text x="212.00" y="429.9" class="hs" text-anchor="middle">D</text>
<text x="253.20" y="429.9" class="hs" text-anchor="middle">E</text>
<text x="273.80" y="429.9" class="hs" text-anchor="middle">C</text>
<text x="309.60" y="429.9" class="hs" text-anchor="middle">Z</text>
<text x="348.70" y="429.9" class="hs" text-anchor="middle">Γ</text>
<text x="205.4" y="456.6" class="ti" text-anchor="middle">Momentum</text>
<text x="384.6" y="453" class="ti">PHDOS (states/cm<tspan dx="1.3" dy="-7" font-size="12">-1</tspan><tspan dx="1.4" dy="7">/cell)</tspan></text>
<text transform="translate(18.6,268.6) rotate(-90)" class="ti" style="font-size:20.6px">Raman shift (cm<tspan dx="1.5" dy="-7" font-size="12">-1</tspan><tspan dx="1.6" dy="7">)</tspan></text>
<text x="81.3" y="36.6" class="pl">(a)</text>
<text x="377.6" y="36.6" class="pl">(b)</text>
</svg></body></html>
